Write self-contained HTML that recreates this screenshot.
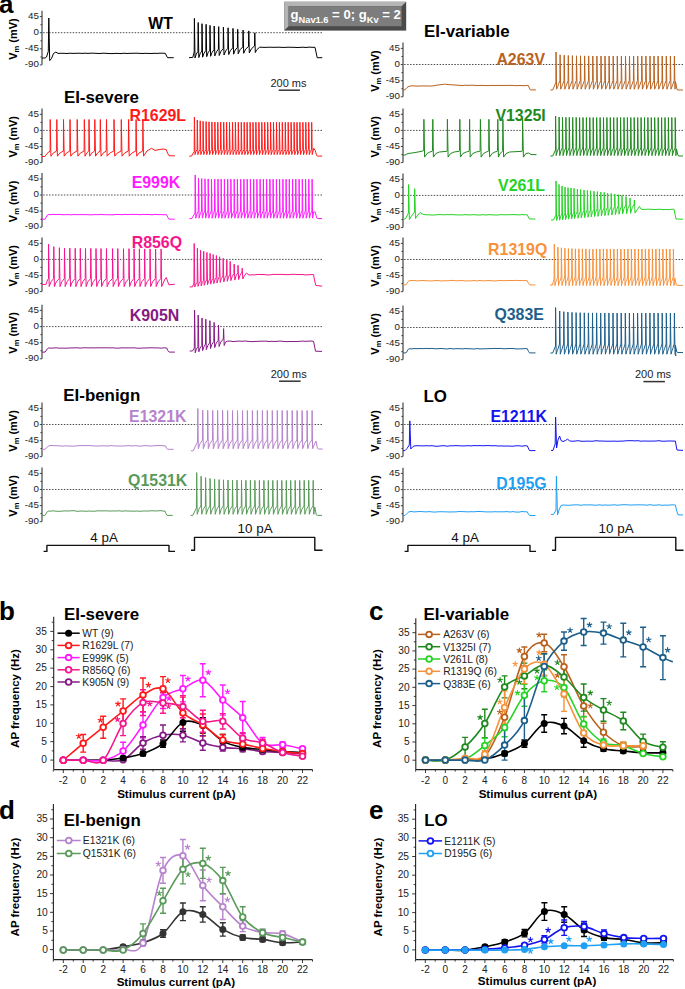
<!DOCTYPE html><html><head><meta charset="utf-8"><style>html,body{margin:0;padding:0;background:#fff;}svg{display:block;} text{font-family:"Liberation Sans", sans-serif;}</style></head><body><svg width="685" height="989" viewBox="0 0 685 989"><rect width="685" height="989" fill="#fff"/><line x1="42" y1="10.8" x2="42" y2="64.8" stroke="#333" stroke-width="1.1"/>
<line x1="39.8" y1="16.6" x2="42" y2="16.6" stroke="#333" stroke-width="0.9"/>
<line x1="40.4" y1="24.7" x2="42" y2="24.7" stroke="#333" stroke-width="0.9"/>
<line x1="39.8" y1="32.7" x2="42" y2="32.7" stroke="#333" stroke-width="0.9"/>
<line x1="40.4" y1="40.8" x2="42" y2="40.8" stroke="#333" stroke-width="0.9"/>
<line x1="39.8" y1="48.8" x2="42" y2="48.8" stroke="#333" stroke-width="0.9"/>
<line x1="40.4" y1="56.9" x2="42" y2="56.9" stroke="#333" stroke-width="0.9"/>
<line x1="39.8" y1="64.9" x2="42" y2="64.9" stroke="#333" stroke-width="0.9"/>
<text x="39" y="18.8" font-size="9.8" fill="#222" font-weight="normal" text-anchor="end">45</text>
<text x="39" y="34.9" font-size="9.8" fill="#222" font-weight="normal" text-anchor="end">0</text>
<text x="39" y="51" font-size="9.8" fill="#222" font-weight="normal" text-anchor="end">-45</text>
<text x="39" y="67.1" font-size="9.8" fill="#222" font-weight="normal" text-anchor="end">-90</text>
<text transform="translate(17.2,39.1) rotate(-90)" font-size="11" font-weight="bold" text-anchor="middle">V<tspan font-size="7.5" dy="2">m</tspan><tspan dy="-2"> (mV)</tspan></text>
<line x1="43.2" y1="32.7" x2="322.3" y2="32.7" stroke="#444" stroke-width="0.95" stroke-dasharray="1.5 1.45"/>
<path d="M42 58L45.1 58 46.5 57 48.3 51.4 48.8 18 49.7 60.6 51.5 58.5 53.5 53.5 55.8 52.1 58 53.4 61 53.3 64 53.3 67 53.5 70 53.2 73 53.4 76 53.3 79 53.2 82 53.4 85 53.2 88 53.4 91 53.2 94 53.2 97 53.4 100 53.5 103 53.2 106 53.3 109 53.5 112 53.6 115 53.4 118 53.4 121 53.6 124 53.2 127 53.5 130 53.3 133 53.3 136 53.2 139 53.3 142 53.5 145 53.3 148 53.4 151 53.5 154 53.3 157 53.4 160 53.2 163 53.2 165.4 53.4 166.6 56 167.6 57.7 173.7 57.7" fill="none" stroke="#000000" stroke-width="1.0" stroke-linejoin="round"/>
<path d="M189 57.7L192.8 57.4 194.2 52 194.4 18.4 195 58 196.3 54.1 197.9 51.5 198.2 22.5 198.8 57.6 200.1 53.7 201.8 51.1 202 23.7 202.6 57.2 204 53.2 205.8 50.6 206.1 24.3 206.7 56.7 208 52.8 209.8 50.2 210 25.4 210.6 56.3 212.1 52.3 214 49.7 214.2 26 214.8 55.9 216.4 51.9 218.4 49.2 218.7 26.6 219.2 55.5 220.9 51.4 223.2 48.8 223.4 27.2 224 55 225.6 51 227.8 48.3 228.1 27.8 228.7 54.6 230.4 50.6 232.8 47.8 233 28.4 233.6 54.2 235.2 50.1 237.4 47.4 237.7 29.3 238.2 53.8 240.1 49.7 242.8 46.9 243.1 30.1 243.7 53.3 245.6 49.2 248.5 46.5 248.8 30.9 249.3 52.9 251.4 48.8 254.5 46 254.8 32.8 255.3 52.5 256.5 50 259.5 47.3 261 47.2 264 47.4 267 47.3 270 47.2 273 47.3 276 47.3 279 47.2 282 47.4 285 47.4 288 47.2 291 47.3 294 47.3 297 47.5 300 47.4 303 47.2 306 47.5 309 47.1 312 47.3 315 47.3 316 52 317.2 57.7 322.3 57.7" fill="none" stroke="#000000" stroke-width="1.0" stroke-linejoin="round"/>
<text x="148.3" y="29.1" font-size="15.8" fill="#000" font-weight="bold" text-anchor="start">WT</text>
<text x="270.4" y="87" font-size="11" fill="#222" font-weight="normal" text-anchor="start">200 ms</text>
<line x1="278.7" y1="90.2" x2="299.9" y2="90.2" stroke="#333" stroke-width="1.5"/>
<text x="63.9" y="102.9" font-size="16.9" fill="#000" font-weight="bold" text-anchor="start">EI-severe</text>
<line x1="42" y1="108.5" x2="42" y2="162.5" stroke="#333" stroke-width="1.1"/>
<line x1="39.8" y1="114.3" x2="42" y2="114.3" stroke="#333" stroke-width="0.9"/>
<line x1="40.4" y1="122.4" x2="42" y2="122.4" stroke="#333" stroke-width="0.9"/>
<line x1="39.8" y1="130.4" x2="42" y2="130.4" stroke="#333" stroke-width="0.9"/>
<line x1="40.4" y1="138.5" x2="42" y2="138.5" stroke="#333" stroke-width="0.9"/>
<line x1="39.8" y1="146.5" x2="42" y2="146.5" stroke="#333" stroke-width="0.9"/>
<line x1="40.4" y1="154.6" x2="42" y2="154.6" stroke="#333" stroke-width="0.9"/>
<line x1="39.8" y1="162.6" x2="42" y2="162.6" stroke="#333" stroke-width="0.9"/>
<text x="39" y="116.5" font-size="9.8" fill="#222" font-weight="normal" text-anchor="end">45</text>
<text x="39" y="132.6" font-size="9.8" fill="#222" font-weight="normal" text-anchor="end">0</text>
<text x="39" y="148.7" font-size="9.8" fill="#222" font-weight="normal" text-anchor="end">-45</text>
<text x="39" y="164.8" font-size="9.8" fill="#222" font-weight="normal" text-anchor="end">-90</text>
<text transform="translate(17.2,136.8) rotate(-90)" font-size="11" font-weight="bold" text-anchor="middle">V<tspan font-size="7.5" dy="2">m</tspan><tspan dy="-2"> (mV)</tspan></text>
<line x1="43.2" y1="130.4" x2="322.3" y2="130.4" stroke="#444" stroke-width="0.95" stroke-dasharray="1.5 1.45"/>
<path d="M42 156.5L45 156.5 47 153.5 50.1 151 50.2 119.5 50.9 156.2 53.2 153.1 56.6 151 56.8 119.5 57.4 156.2 59.8 153.1 63.4 151 63.5 119.5 64.2 156.2 66.4 153.1 69.8 151 70 119.5 70.7 156.2 73.2 153.1 77 151 77.2 119.5 77.9 156.2 80.3 153.1 84.1 151 84.3 119.5 85 156.2 86.6 153.1 88.8 151 89 119.5 89.7 156.2 91.7 153.1 94.6 151 94.8 119.5 95.5 156.2 97.4 153.1 100.1 151 100.3 119.5 101 156.2 103.1 153.1 106.2 151 106.5 119.5 107.1 156.2 109.7 153.1 113.8 151 114 119.5 114.7 156.2 117.2 153.1 121.1 151 121.3 119.5 122 156.2 124.5 153.1 128.3 151 128.6 119.5 129.2 156.2 131.8 153.1 135.8 151 136.1 119.5 136.7 156.2 139 153.1 142.7 151 142.9 119.5 143.5 156.2 147 151 151.4 148.3 155 150.4 159 149.6 163 149 166.2 149.5 167.5 153 169 155.7 174.9 155.9" fill="none" stroke="#ff1a1a" stroke-width="1.0" stroke-linejoin="round"/>
<path d="M189.2 156.1L191.5 156.1 194.2 151.5 194.4 117 195 154.6 196 151.5 197.1 149.5 197.3 120 197.9 154.6 198.9 151.5 200 149.5 200.2 120.8 200.8 154.6 201.8 151.5 202.9 149.5 203.1 121.3 203.7 154.6 204.8 151.5 205.9 149.5 206.1 121.6 206.7 154.6 207.7 151.5 208.8 149.5 209 121.8 209.6 154.6 210.6 151.5 211.7 149.5 211.9 122 212.5 154.6 213.6 151.5 214.7 149.5 214.9 122.1 215.5 154.6 216.5 151.5 217.6 149.5 217.8 122.2 218.4 154.6 219.4 151.5 220.5 149.5 220.7 122.2 221.3 154.6 222.4 151.5 223.5 149.5 223.7 122.2 224.3 154.6 225.3 151.5 226.4 149.5 226.6 122.3 227.2 154.6 228.2 151.5 229.3 149.5 229.5 122.3 230.1 154.6 231.2 151.5 232.3 149.5 232.5 122.3 233.1 154.6 234.1 151.5 235.2 149.5 235.4 122.3 236 154.6 237 151.5 238.1 149.5 238.3 122.3 238.9 154.6 240 151.5 241.1 149.5 241.3 122.3 241.9 154.6 242.9 151.5 244 149.5 244.2 122.3 244.8 154.6 245.8 151.5 246.9 149.5 247.1 122.3 247.7 154.6 248.8 151.5 249.9 149.5 250.1 122.3 250.7 154.6 251.7 151.5 252.8 149.5 253 122.3 253.6 154.6 254.6 151.5 255.7 149.5 255.9 122.3 256.5 154.6 257.6 151.5 258.7 149.5 258.9 122.3 259.5 154.6 260.5 151.5 261.6 149.5 261.8 122.3 262.4 154.6 263.4 151.5 264.5 149.5 264.7 122.3 265.3 154.6 266.4 151.5 267.5 149.5 267.7 122.3 268.3 154.6 269.3 151.5 270.4 149.5 270.6 122.3 271.2 154.6 272.2 151.5 273.3 149.5 273.5 122.3 274.1 154.6 275.2 151.5 276.3 149.5 276.5 122.3 277.1 154.6 278.1 151.5 279.2 149.5 279.4 122.3 280 154.6 281 151.5 282.1 149.5 282.3 122.3 282.9 154.6 284 151.5 285.1 149.5 285.3 122.3 285.9 154.6 286.9 151.5 288 149.5 288.2 122.3 288.8 154.6 289.8 151.5 290.9 149.5 291.1 122.3 291.7 154.6 292.7 151.5 293.9 149.5 294.1 122.3 294.7 154.6 295.7 151.5 296.8 149.5 297 122.3 297.6 154.6 298.6 151.5 299.7 149.5 299.9 122.3 300.5 154.6 301.5 151.5 302.7 149.5 302.9 122.3 303.5 154.6 304.5 151.5 305.6 149.5 305.8 122.3 306.4 154.6 307.4 151.5 308.5 149.5 308.7 122.3 309.3 154.6 310.3 151.5 311.5 149.5 311.7 122.3 312.2 154.6 313.7 148.3 315.2 150.5 316.7 155.6 317.7 156.1 322.2 156.1" fill="none" stroke="#ff1a1a" stroke-width="1.0" stroke-linejoin="round"/>
<text x="129.5" y="121.2" font-size="15.9" fill="#ff1a1a" font-weight="bold" text-anchor="start">R1629L</text>
<line x1="42" y1="173.1" x2="42" y2="227.1" stroke="#333" stroke-width="1.1"/>
<line x1="39.8" y1="178.9" x2="42" y2="178.9" stroke="#333" stroke-width="0.9"/>
<line x1="40.4" y1="186.9" x2="42" y2="186.9" stroke="#333" stroke-width="0.9"/>
<line x1="39.8" y1="195" x2="42" y2="195" stroke="#333" stroke-width="0.9"/>
<line x1="40.4" y1="203.1" x2="42" y2="203.1" stroke="#333" stroke-width="0.9"/>
<line x1="39.8" y1="211.1" x2="42" y2="211.1" stroke="#333" stroke-width="0.9"/>
<line x1="40.4" y1="219.2" x2="42" y2="219.2" stroke="#333" stroke-width="0.9"/>
<line x1="39.8" y1="227.2" x2="42" y2="227.2" stroke="#333" stroke-width="0.9"/>
<text x="39" y="181.1" font-size="9.8" fill="#222" font-weight="normal" text-anchor="end">45</text>
<text x="39" y="197.2" font-size="9.8" fill="#222" font-weight="normal" text-anchor="end">0</text>
<text x="39" y="213.3" font-size="9.8" fill="#222" font-weight="normal" text-anchor="end">-45</text>
<text x="39" y="229.4" font-size="9.8" fill="#222" font-weight="normal" text-anchor="end">-90</text>
<text transform="translate(17.2,201.4) rotate(-90)" font-size="11" font-weight="bold" text-anchor="middle">V<tspan font-size="7.5" dy="2">m</tspan><tspan dy="-2"> (mV)</tspan></text>
<line x1="43.2" y1="195" x2="322.3" y2="195" stroke="#444" stroke-width="0.95" stroke-dasharray="1.5 1.45"/>
<path d="M42 219.2L45 219.2 47.4 215.1 48 214.6 50 214.7 53 214.4 56 214.6 59 214.4 62 214.7 65 214.7 68 214.6 71 214.8 74 214.5 77 214.7 80 214.6 83 214.6 86 214.6 89 214.8 92 214.8 95 214.6 98 214.7 101 214.4 104 214.7 107 214.7 110 214.8 113 214.8 116 214.5 119 214.5 122 214.7 125 214.4 128 214.6 131 214.4 134 214.4 137 214.4 140 214.7 143 214.4 146 214.5 149 214.5 152 214.8 155 214.4 158 214.6 161 214.6 164 214.8 166.5 214.6 167.8 217.4 169 219.2 174.7 219.2" fill="none" stroke="#ff1aff" stroke-width="1.0" stroke-linejoin="round"/>
<path d="M189.5 218.5L191.8 218.5 195 213 195.2 174.9 195.8 218.2 197 213.9 198.3 211 198.5 178.2 199.1 218.2 200.2 213.9 201.5 211 201.7 178.5 202.3 218.2 203.5 213.9 204.8 211 205 178.8 205.6 218.2 206.7 213.9 208 211 208.2 178.9 208.8 218.2 210 213.9 211.3 211 211.5 179 212.1 218.2 213.2 213.9 214.5 211 214.7 179.1 215.3 218.2 216.5 213.9 217.8 211 218 179.1 218.6 218.2 219.7 213.9 221 211 221.2 179.1 221.8 218.2 222.9 213.9 224.2 211 224.4 179.2 225 218.2 226.2 213.9 227.5 211 227.7 179.2 228.3 218.2 229.4 213.9 230.7 211 230.9 179.2 231.5 218.2 232.7 213.9 234 211 234.2 179.2 234.8 218.2 235.9 213.9 237.2 211 237.4 179.2 238 218.2 239.2 213.9 240.5 211 240.7 179.2 241.3 218.2 242.4 213.9 243.7 211 243.9 179.2 244.5 218.2 245.7 213.9 247 211 247.2 179.2 247.8 218.2 248.9 213.9 250.2 211 250.4 179.2 251 218.2 252.1 213.9 253.4 211 253.7 179.2 254.2 218.2 255.4 213.9 256.7 211 256.9 179.2 257.5 218.2 258.6 213.9 259.9 211 260.1 179.2 260.7 218.2 261.9 213.9 263.2 211 263.4 179.2 264 218.2 265.1 213.9 266.4 211 266.6 179.2 267.2 218.2 268.4 213.9 269.7 211 269.9 179.2 270.5 218.2 271.6 213.9 272.9 211 273.1 179.2 273.7 218.2 274.9 213.9 276.2 211 276.4 179.2 277 218.2 278.1 213.9 279.4 211 279.6 179.2 280.2 218.2 281.3 213.9 282.7 211 282.9 179.2 283.4 218.2 284.6 213.9 285.9 211 286.1 179.2 286.7 218.2 287.8 213.9 289.1 211 289.3 179.2 289.9 218.2 291.1 213.9 292.4 211 292.6 179.2 293.2 218.2 294.3 213.9 295.6 211 295.8 179.2 296.4 218.2 297.6 213.9 298.9 211 299.1 179.2 299.7 218.2 300.8 213.9 302.1 211 302.3 179.2 302.9 218.2 304.1 213.9 305.4 211 305.6 179.2 306.2 218.2 307.3 213.9 308.6 211 308.8 179.2 309.4 218.2 310.5 213.9 311.9 211 312.1 179.2 312.6 218.2 313.6 212 315.2 212 316.7 218 317.7 218.5 322 218.5" fill="none" stroke="#ff1aff" stroke-width="1.0" stroke-linejoin="round"/>
<text x="131.7" y="187.9" font-size="15.9" fill="#ff1aff" font-weight="bold" text-anchor="start">E999K</text>
<line x1="42" y1="237.5" x2="42" y2="291.5" stroke="#333" stroke-width="1.1"/>
<line x1="39.8" y1="243.3" x2="42" y2="243.3" stroke="#333" stroke-width="0.9"/>
<line x1="40.4" y1="251.3" x2="42" y2="251.3" stroke="#333" stroke-width="0.9"/>
<line x1="39.8" y1="259.4" x2="42" y2="259.4" stroke="#333" stroke-width="0.9"/>
<line x1="40.4" y1="267.4" x2="42" y2="267.4" stroke="#333" stroke-width="0.9"/>
<line x1="39.8" y1="275.5" x2="42" y2="275.5" stroke="#333" stroke-width="0.9"/>
<line x1="40.4" y1="283.5" x2="42" y2="283.5" stroke="#333" stroke-width="0.9"/>
<line x1="39.8" y1="291.6" x2="42" y2="291.6" stroke="#333" stroke-width="0.9"/>
<text x="39" y="245.5" font-size="9.8" fill="#222" font-weight="normal" text-anchor="end">45</text>
<text x="39" y="261.6" font-size="9.8" fill="#222" font-weight="normal" text-anchor="end">0</text>
<text x="39" y="277.7" font-size="9.8" fill="#222" font-weight="normal" text-anchor="end">-45</text>
<text x="39" y="293.8" font-size="9.8" fill="#222" font-weight="normal" text-anchor="end">-90</text>
<text transform="translate(17.2,265.8) rotate(-90)" font-size="11" font-weight="bold" text-anchor="middle">V<tspan font-size="7.5" dy="2">m</tspan><tspan dy="-2"> (mV)</tspan></text>
<line x1="43.2" y1="259.4" x2="322.3" y2="259.4" stroke="#444" stroke-width="0.95" stroke-dasharray="1.5 1.45"/>
<path d="M42 284.4L46 284.4 47.5 280 48.5 278.6 48.6 244.2 49.2 286.6 51 281.8 53.6 278.6 53.8 246.6 54.4 286.6 56.3 281.8 59.2 278.6 59.4 247.7 60 286.6 61.8 281.8 64.3 278.6 64.5 248.2 65.2 286.6 67 281.8 69.6 278.6 69.8 248.2 70.5 286.6 72.3 281.8 75 278.6 75.2 248.3 75.9 286.6 77.6 281.8 80.1 278.6 80.3 248.3 81 286.6 82.7 281.8 85.2 278.6 85.5 248.4 86.1 286.6 87.9 281.8 90.5 278.6 90.8 248.4 91.4 286.6 93.2 281.8 95.8 278.6 96 248.5 96.7 286.6 98.4 281.8 100.8 278.6 101 248.5 101.6 286.6 103.5 281.8 106.2 278.6 106.5 248.6 107.1 286.6 109.2 281.8 112.4 278.6 112.6 248.6 113.2 286.6 115 281.8 117.5 278.6 117.8 248.6 118.4 286.6 120.3 281.8 123.2 278.6 123.5 248.7 124.1 286.6 126 281.8 128.8 278.6 129 248.7 129.6 286.6 131.3 281.8 133.8 278.6 134.1 248.8 134.7 286.6 136.5 281.8 139.2 278.6 139.4 248.8 140 286.6 141.8 281.8 144.4 278.6 144.7 248.9 145.2 286.6 147.1 281.8 149.8 278.6 150.1 248.9 150.7 286.6 152.6 281.8 155.3 278.6 155.6 249 156.2 286.6 158.1 281.8 160.8 278.6 161.1 249 161.7 286.6 164.5 280 166.3 277.5 167.5 281 168.8 284.8 174.9 284.2" fill="none" stroke="#f5168c" stroke-width="1.0" stroke-linejoin="round"/>
<path d="M189.7 286.9L192.5 286.9 193.9 283 194.2 243.5 194.8 287 195.9 284.1 197.2 282.2 197.4 248.3 198 286.4 199.1 283.4 200.3 281.4 200.6 250.2 201.2 285.9 202.2 282.7 203.4 280.6 203.7 251.3 204.2 285.3 205.4 282 206.7 279.9 206.9 252.4 207.5 284.7 208.6 281.3 209.8 279.1 210.1 253.4 210.7 284.1 211.8 280.6 213 278.3 213.2 254.5 213.8 283.6 214.9 279.9 216.2 277.5 216.4 255.5 217 283 218.1 279.2 219.3 276.7 219.6 256.8 220.2 282.4 221.4 278.5 222.9 275.9 223.2 258.3 223.8 281.9 225 277.8 226.5 275.1 226.8 260 227.3 281.3 228.5 277.1 229.9 274.4 230.2 261.5 230.8 280.7 232.2 276.4 233.9 273.6 234.2 264 234.8 280.1 236.1 275.7 237.8 272.8 238 265.3 238.6 279.6 240.1 275 242 272 242.2 268.2 242.8 279 244.5 275.5 246.4 273.1 249 275 252 274.8 255 274.9 258 274.4 261 274.5 264 274.5 267 274.9 270 274.9 273 274.4 276 274.4 279 274.4 282 274.4 285 274.6 288 274.7 291 274.4 294 274.3 297 274.5 300 274.5 303 274.6 306 274.9 309 274.7 312 274.6 313.5 274.6 314.5 280 315.8 285.4 322.2 286.2" fill="none" stroke="#f5168c" stroke-width="1.0" stroke-linejoin="round"/>
<text x="131.7" y="248.3" font-size="15.9" fill="#f5168c" font-weight="bold" text-anchor="start">R856Q</text>
<line x1="42" y1="304.7" x2="42" y2="358.7" stroke="#333" stroke-width="1.1"/>
<line x1="39.8" y1="310.4" x2="42" y2="310.4" stroke="#333" stroke-width="0.9"/>
<line x1="40.4" y1="318.5" x2="42" y2="318.5" stroke="#333" stroke-width="0.9"/>
<line x1="39.8" y1="326.6" x2="42" y2="326.6" stroke="#333" stroke-width="0.9"/>
<line x1="40.4" y1="334.6" x2="42" y2="334.6" stroke="#333" stroke-width="0.9"/>
<line x1="39.8" y1="342.7" x2="42" y2="342.7" stroke="#333" stroke-width="0.9"/>
<line x1="40.4" y1="350.7" x2="42" y2="350.7" stroke="#333" stroke-width="0.9"/>
<line x1="39.8" y1="358.8" x2="42" y2="358.8" stroke="#333" stroke-width="0.9"/>
<text x="39" y="312.6" font-size="9.8" fill="#222" font-weight="normal" text-anchor="end">45</text>
<text x="39" y="328.8" font-size="9.8" fill="#222" font-weight="normal" text-anchor="end">0</text>
<text x="39" y="344.9" font-size="9.8" fill="#222" font-weight="normal" text-anchor="end">-45</text>
<text x="39" y="360.9" font-size="9.8" fill="#222" font-weight="normal" text-anchor="end">-90</text>
<text transform="translate(17.2,332.9) rotate(-90)" font-size="11" font-weight="bold" text-anchor="middle">V<tspan font-size="7.5" dy="2">m</tspan><tspan dy="-2"> (mV)</tspan></text>
<line x1="43.2" y1="326.6" x2="322.3" y2="326.6" stroke="#444" stroke-width="0.95" stroke-dasharray="1.5 1.45"/>
<path d="M42 352.1L45.1 352.1 47.6 348.5 48.2 348 50.2 348.1 53.2 348.1 56.2 347.8 59.2 348.2 62.2 348.1 65.2 348.2 68.2 348.1 71.2 347.9 74.2 347.9 77.2 347.8 80.2 348.1 83.2 347.8 86.2 347.8 89.2 347.9 92.2 347.8 95.2 347.9 98.2 347.8 101.2 347.8 104.2 347.8 107.2 347.8 110.2 347.9 113.2 347.8 116.2 348.2 119.2 348.1 122.2 347.8 125.2 347.9 128.2 347.9 131.2 347.9 134.2 347.8 137.2 348.2 140.2 348.2 143.2 348 146.2 348 149.2 347.8 152.2 347.8 155.2 347.9 158.2 347.9 161.2 348.2 164.2 347.8 166.7 348 167.9 350.6 169.2 352.1 174.9 352.1" fill="none" stroke="#851a85" stroke-width="1.0" stroke-linejoin="round"/>
<path d="M189.7 351L192.5 351 194.3 348 194.6 310.1 195.2 352.8 196.4 349.1 197.9 346.7 198.2 315 198.8 351.8 200.1 348 201.8 345.4 202 318 202.6 350.7 203.9 346.8 205.5 344.1 205.8 319.2 206.3 349.7 207.8 345.6 209.7 342.9 209.9 320.7 210.5 348.6 211.9 344.4 213.8 341.6 214.1 322.4 214.7 347.6 216.2 343.2 218.2 340.3 218.5 325 219.1 346.5 220.8 342 223.3 339 223.6 328.6 224.2 345.5 225.5 342 227.3 341.3 230 341 233 341.6 236 341.3 239 341.1 242 341.3 245 341 248 341.3 251 341.6 254 341.5 257 341.4 260 341.2 263 341.2 266 341.1 269 341.5 272 341.3 275 341.5 278 341.2 281 341.1 284 341.5 287 341.6 290 341.5 293 341.5 296 341.5 299 341.4 302 341.1 305 341.3 308 341.2 311 341 313.5 341.3 314.5 346 315.5 351.2 322 351.4" fill="none" stroke="#851a85" stroke-width="1.0" stroke-linejoin="round"/>
<text x="129.8" y="320.9" font-size="15.9" fill="#851a85" font-weight="bold" text-anchor="start">K905N</text>
<text x="270.7" y="378" font-size="11" fill="#222" font-weight="normal" text-anchor="start">200 ms</text>
<line x1="279.1" y1="381.2" x2="300.6" y2="381.2" stroke="#333" stroke-width="1.5"/>
<text x="63.3" y="401.3" font-size="16.9" fill="#000" font-weight="bold" text-anchor="start">EI-benign</text>
<line x1="42" y1="402.6" x2="42" y2="456.6" stroke="#333" stroke-width="1.1"/>
<line x1="39.8" y1="408.4" x2="42" y2="408.4" stroke="#333" stroke-width="0.9"/>
<line x1="40.4" y1="416.4" x2="42" y2="416.4" stroke="#333" stroke-width="0.9"/>
<line x1="39.8" y1="424.5" x2="42" y2="424.5" stroke="#333" stroke-width="0.9"/>
<line x1="40.4" y1="432.6" x2="42" y2="432.6" stroke="#333" stroke-width="0.9"/>
<line x1="39.8" y1="440.6" x2="42" y2="440.6" stroke="#333" stroke-width="0.9"/>
<line x1="40.4" y1="448.6" x2="42" y2="448.6" stroke="#333" stroke-width="0.9"/>
<line x1="39.8" y1="456.7" x2="42" y2="456.7" stroke="#333" stroke-width="0.9"/>
<text x="39" y="410.6" font-size="9.8" fill="#222" font-weight="normal" text-anchor="end">45</text>
<text x="39" y="426.7" font-size="9.8" fill="#222" font-weight="normal" text-anchor="end">0</text>
<text x="39" y="442.8" font-size="9.8" fill="#222" font-weight="normal" text-anchor="end">-45</text>
<text x="39" y="458.9" font-size="9.8" fill="#222" font-weight="normal" text-anchor="end">-90</text>
<text transform="translate(17.2,430.9) rotate(-90)" font-size="11" font-weight="bold" text-anchor="middle">V<tspan font-size="7.5" dy="2">m</tspan><tspan dy="-2"> (mV)</tspan></text>
<line x1="43.2" y1="424.5" x2="322.3" y2="424.5" stroke="#444" stroke-width="0.95" stroke-dasharray="1.5 1.45"/>
<path d="M42 449.3L45 449.3 48.2 446.3 49 445.8 51 445.5 54 445.7 57 445.7 60 445.9 63 446.1 66 445.8 69 446.1 72 446.1 75 446.1 78 445.7 81 445.6 84 445.6 87 445.6 90 445.6 93 445.9 96 446 99 446 102 445.8 105 445.9 108 446 111 445.6 114 445.9 117 446 120 446 123 446 126 445.8 129 445.6 132 446 135 445.7 138 446 141 446.1 144 445.7 147 445.7 150 446.1 153 445.9 156 445.6 159 445.6 162 445.6 165 446 165.5 445.8 166.5 448.1 167.5 449.3 173.6 449.3" fill="none" stroke="#b683cc" stroke-width="1.0" stroke-linejoin="round"/>
<path d="M190.9 450.8L193.2 450.8 197.5 442 197.8 408.5 198.3 448.7 200.1 443.5 202.5 440 202.7 410.2 203.3 448.7 205.1 443.5 207.5 440 207.7 410.3 208.3 448.7 210 443.5 212.5 440 212.7 410.4 213.3 448.7 215 443.5 217.4 440 217.6 410.4 218.2 448.7 220 443.5 222.4 440 222.6 410.4 223.2 448.7 224.9 443.5 227.4 440 227.6 410.5 228.2 448.7 229.9 443.5 232.3 440 232.5 410.5 233.1 448.7 234.9 443.5 237.3 440 237.5 410.5 238.1 448.7 239.8 443.5 242.3 440 242.5 410.5 243.1 448.7 244.8 443.5 247.2 440 247.4 410.5 248 448.7 249.8 443.5 252.2 440 252.4 410.5 253 448.7 254.8 443.5 257.2 440 257.4 410.5 258 448.7 259.7 443.5 262.2 440 262.4 410.5 263 448.7 264.7 443.5 267.1 440 267.3 410.5 267.9 448.7 269.7 443.5 272.1 440 272.3 410.5 272.9 448.7 274.6 443.5 277.1 440 277.3 410.5 277.9 448.7 279.6 443.5 282 440 282.2 410.5 282.8 448.7 284.6 443.5 287 440 287.2 410.5 287.8 448.7 289.5 443.5 292 440 292.2 410.5 292.8 448.7 294.5 443.5 296.9 440 297.1 410.5 297.7 448.7 299.5 443.5 301.9 440 302.1 410.5 302.7 448.7 304.5 443.5 306.9 440 307.1 410.5 307.7 448.7 309.4 443.5 311.9 440 312.1 410.5 312.6 448.7 314.8 443.4 316 441 317.5 448.5 318.5 449 322.6 449" fill="none" stroke="#b683cc" stroke-width="1.0" stroke-linejoin="round"/>
<text x="129.1" y="422.2" font-size="15.9" fill="#b683cc" font-weight="bold" text-anchor="start">E1321K</text>
<line x1="42" y1="467.6" x2="42" y2="521.6" stroke="#333" stroke-width="1.1"/>
<line x1="39.8" y1="473.4" x2="42" y2="473.4" stroke="#333" stroke-width="0.9"/>
<line x1="40.4" y1="481.4" x2="42" y2="481.4" stroke="#333" stroke-width="0.9"/>
<line x1="39.8" y1="489.5" x2="42" y2="489.5" stroke="#333" stroke-width="0.9"/>
<line x1="40.4" y1="497.6" x2="42" y2="497.6" stroke="#333" stroke-width="0.9"/>
<line x1="39.8" y1="505.6" x2="42" y2="505.6" stroke="#333" stroke-width="0.9"/>
<line x1="40.4" y1="513.6" x2="42" y2="513.6" stroke="#333" stroke-width="0.9"/>
<line x1="39.8" y1="521.7" x2="42" y2="521.7" stroke="#333" stroke-width="0.9"/>
<text x="39" y="475.6" font-size="9.8" fill="#222" font-weight="normal" text-anchor="end">45</text>
<text x="39" y="491.7" font-size="9.8" fill="#222" font-weight="normal" text-anchor="end">0</text>
<text x="39" y="507.8" font-size="9.8" fill="#222" font-weight="normal" text-anchor="end">-45</text>
<text x="39" y="523.9" font-size="9.8" fill="#222" font-weight="normal" text-anchor="end">-90</text>
<text transform="translate(17.2,495.9) rotate(-90)" font-size="11" font-weight="bold" text-anchor="middle">V<tspan font-size="7.5" dy="2">m</tspan><tspan dy="-2"> (mV)</tspan></text>
<line x1="43.2" y1="489.5" x2="322.3" y2="489.5" stroke="#444" stroke-width="0.95" stroke-dasharray="1.5 1.45"/>
<path d="M42 515.4L45 515.4 47.4 511.5 48 511 50 511.2 53 510.8 56 511.2 59 511.3 62 511.1 65 510.9 68 511 71 510.8 74 510.7 77 511.3 80 511.1 83 511 86 511.3 89 511 92 511.2 95 511.2 98 510.8 101 510.9 104 510.9 107 510.8 110 511.1 113 510.9 116 511 119 510.8 122 511.2 125 510.9 128 511 131 511.1 134 511.2 137 511 140 511.3 143 511 146 511 149 511 152 510.7 155 511 158 510.8 161 510.7 164 511.2 165 511 166 513.7 167 515.4 172.7 515.4" fill="none" stroke="#5a9a5a" stroke-width="1.0" stroke-linejoin="round"/>
<path d="M190.5 515.4L192.8 515.4 196.4 508 196.7 472.6 197.2 514.3 198.8 509.3 200.9 506 201.1 476.2 201.7 514.3 203.3 509.3 205.4 506 205.6 477.6 206.2 514.3 207.8 509.3 209.9 506 210.1 478.5 210.7 514.3 212.3 509.3 214.4 506 214.6 479.1 215.2 514.3 216.7 509.3 218.9 506 219.1 479.6 219.7 514.3 221.2 509.3 223.3 506 223.5 479.8 224.1 514.3 225.7 509.3 227.8 506 228 480 228.6 514.3 230.2 509.3 232.3 506 232.5 480.1 233.1 514.3 234.7 509.3 236.8 506 237 480.2 237.6 514.3 239.1 509.3 241.3 506 241.5 480.3 242.1 514.3 243.6 509.3 245.7 506 245.9 480.3 246.5 514.3 248.1 509.3 250.2 506 250.4 480.3 251 514.3 252.6 509.3 254.7 506 254.9 480.4 255.5 514.3 257.1 509.3 259.2 506 259.4 480.4 260 514.3 261.5 509.3 263.7 506 263.9 480.4 264.5 514.3 266 509.3 268.1 506 268.3 480.4 268.9 514.3 270.5 509.3 272.6 506 272.8 480.4 273.4 514.3 275 509.3 277.1 506 277.3 480.4 277.9 514.3 279.5 509.3 281.6 506 281.8 480.4 282.4 514.3 284 509.3 286.1 506 286.3 480.4 286.9 514.3 288.4 509.3 290.5 506 290.7 480.4 291.3 514.3 292.9 509.3 295 506 295.2 480.4 295.8 514.3 297.4 509.3 299.5 506 299.7 480.4 300.3 514.3 301.9 509.3 304 506 304.2 480.4 304.8 514.3 306.4 509.3 308.5 506 308.7 480.4 309.3 514.3 310.8 509.3 313 506 313.2 480.4 313.8 514.3 314.8 507 316.3 514.9 317.3 515.4 322 515.4" fill="none" stroke="#5a9a5a" stroke-width="1.0" stroke-linejoin="round"/>
<text x="128.1" y="486.2" font-size="15.9" fill="#5a9a5a" font-weight="bold" text-anchor="start">Q1531K</text>
<path d="M43.6 551.4L46.9 551.4 46.9 545.4 169 545.4 169 551.4 175 551.4" fill="none" stroke="#111" stroke-width="1.4" stroke-linejoin="round" stroke-linejoin="miter"/>
<text x="90.3" y="541.5" font-size="13.4" fill="#111" font-weight="normal" text-anchor="start">4 pA</text>
<path d="M191 550.2L194.5 550.2 194.5 537.4 314.8 537.4 314.8 550.2 322.5 550.2" fill="none" stroke="#111" stroke-width="1.4" stroke-linejoin="round" stroke-linejoin="miter"/>
<text x="237.6" y="533.3" font-size="13.4" fill="#111" font-weight="normal" text-anchor="start">10 pA</text>
<g><rect x="284.2" y="1.8" width="122" height="28.8" fill="#4a4a4a"/><polygon points="284.2,1.8 406.2,1.8 401.6,6.2 288.6,6.2 288.6,26.2 284.2,30.6" fill="#b4b4b4"/><rect x="288.6" y="6.2" width="113" height="20" fill="#7d7d7d"/></g>
<text x="290.5" y="19.3" font-size="13.1" font-weight="bold" fill="#fff">g<tspan font-size="9.3" dy="3.8">Nav1.6</tspan><tspan dy="-3.8"> = 0; g</tspan><tspan font-size="9.3" dy="3.8">Kv</tspan><tspan dy="-3.8"> = 2</tspan></text>
<text x="424.1" y="37.1" font-size="16.9" fill="#000" font-weight="bold" text-anchor="start">EI-variable</text>
<line x1="403" y1="42.6" x2="403" y2="96.7" stroke="#333" stroke-width="1.1"/>
<line x1="400.8" y1="48.4" x2="403" y2="48.4" stroke="#333" stroke-width="0.9"/>
<line x1="401.4" y1="56.5" x2="403" y2="56.5" stroke="#333" stroke-width="0.9"/>
<line x1="400.8" y1="64.5" x2="403" y2="64.5" stroke="#333" stroke-width="0.9"/>
<line x1="401.4" y1="72.6" x2="403" y2="72.6" stroke="#333" stroke-width="0.9"/>
<line x1="400.8" y1="80.7" x2="403" y2="80.7" stroke="#333" stroke-width="0.9"/>
<line x1="401.4" y1="88.7" x2="403" y2="88.7" stroke="#333" stroke-width="0.9"/>
<line x1="400.8" y1="96.8" x2="403" y2="96.8" stroke="#333" stroke-width="0.9"/>
<text x="400" y="50.6" font-size="9.8" fill="#222" font-weight="normal" text-anchor="end">45</text>
<text x="400" y="66.8" font-size="9.8" fill="#222" font-weight="normal" text-anchor="end">0</text>
<text x="400" y="82.9" font-size="9.8" fill="#222" font-weight="normal" text-anchor="end">-45</text>
<text x="400" y="99" font-size="9.8" fill="#222" font-weight="normal" text-anchor="end">-90</text>
<text transform="translate(378.6,71) rotate(-90)" font-size="11" font-weight="bold" text-anchor="middle">V<tspan font-size="7.5" dy="2">m</tspan><tspan dy="-2"> (mV)</tspan></text>
<line x1="404.2" y1="64.5" x2="683" y2="64.5" stroke="#444" stroke-width="0.95" stroke-dasharray="1.5 1.45"/>
<path d="M403 89.9L405 89.9 407 87.5 409 86.3 412 85.8 415 86 418 86.1 421 86 424 85.9 427 86 430 86 432 86 438 85 444.5 84.2 451 84.8 458 85.2 462 85.6 465 85.2 468 85.4 471 85.2 474 85.3 477 85.6 480 85.4 483 85.4 486 85.6 489 85.6 492 85.4 495 85.5 498 85.4 501 85.4 504 85.5 507 85.4 510 85.4 513 85.4 516 85.7 519 85.5 522 85.6 525 85.7 528 85.3 528.3 85.4 529.3 88 530.5 89.9 535.9 89.9" fill="none" stroke="#b9621e" stroke-width="1.0" stroke-linejoin="round"/>
<path d="M550.4 90L552.7 90 555.9 82.5 556 52 556.6 89.2 557.7 86.6 558.5 84.4 559.9 80.5 560.1 54.8 560.7 89.2 561.8 86.6 562.6 84.4 564 80.5 564.2 55.2 564.8 89.2 565.8 86.6 566.7 84.4 568.1 80.5 568.3 55.5 568.9 89.2 569.9 86.6 570.7 84.4 572.2 80.5 572.4 55.6 573 89.2 574 86.6 574.8 84.4 576.3 80.5 576.5 55.8 577.1 89.2 578.1 86.6 578.9 84.4 580.3 80.5 580.5 55.8 581.1 89.2 582.2 86.6 583 84.4 584.4 80.5 584.6 55.9 585.2 89.2 586.2 86.6 587.1 84.4 588.5 80.5 588.7 55.9 589.3 89.2 590.3 86.6 591.1 84.4 592.6 80.5 592.8 56 593.4 89.2 594.4 86.6 595.2 84.4 596.7 80.5 596.9 56 597.5 89.2 598.5 86.6 599.3 84.4 600.8 80.5 601 56 601.6 89.2 602.6 86.6 603.4 84.4 604.8 80.5 605 56 605.6 89.2 606.7 86.6 607.5 84.4 608.9 80.5 609.1 56 609.7 89.2 610.7 86.6 611.6 84.4 613 80.5 613.2 56 613.8 89.2 614.8 86.6 615.6 84.4 617.1 80.5 617.3 56 617.9 89.2 618.9 86.6 619.7 84.4 621.2 80.5 621.4 56 622 89.2 623 86.6 623.8 84.4 625.3 80.5 625.5 56 626.1 89.2 627.1 86.6 627.9 84.4 629.3 80.5 629.5 56 630.1 89.2 631.2 86.6 632 84.4 633.4 80.5 633.6 56 634.2 89.2 635.2 86.6 636.1 84.4 637.5 80.5 637.7 56 638.3 89.2 639.3 86.6 640.1 84.4 641.6 80.5 641.8 56 642.4 89.2 643.4 86.6 644.2 84.4 645.7 80.5 645.9 56 646.5 89.2 647.5 86.6 648.3 84.4 649.8 80.5 650 56 650.6 89.2 651.6 86.6 652.4 84.4 653.8 80.5 654 56 654.6 89.2 655.7 86.6 656.5 84.4 657.9 80.5 658.1 56 658.7 89.2 659.7 86.6 660.6 84.4 662 80.5 662.2 56 662.8 89.2 663.8 86.6 664.6 84.4 666.1 80.5 666.3 56 666.9 89.2 667.9 86.6 668.7 84.4 670.2 80.5 670.4 56 671 89.2 672 86.6 672.8 84.4 674.2 80.5 674.4 56 675 89.2 675.5 81.5 677 89.5 678 90 683 90" fill="none" stroke="#b9621e" stroke-width="1.0" stroke-linejoin="round"/>
<text x="496.4" y="64.8" font-size="15.9" fill="#b9621e" font-weight="bold" text-anchor="start">A263V</text>
<line x1="403" y1="108.5" x2="403" y2="162.5" stroke="#333" stroke-width="1.1"/>
<line x1="400.8" y1="114.3" x2="403" y2="114.3" stroke="#333" stroke-width="0.9"/>
<line x1="401.4" y1="122.4" x2="403" y2="122.4" stroke="#333" stroke-width="0.9"/>
<line x1="400.8" y1="130.4" x2="403" y2="130.4" stroke="#333" stroke-width="0.9"/>
<line x1="401.4" y1="138.5" x2="403" y2="138.5" stroke="#333" stroke-width="0.9"/>
<line x1="400.8" y1="146.5" x2="403" y2="146.5" stroke="#333" stroke-width="0.9"/>
<line x1="401.4" y1="154.6" x2="403" y2="154.6" stroke="#333" stroke-width="0.9"/>
<line x1="400.8" y1="162.6" x2="403" y2="162.6" stroke="#333" stroke-width="0.9"/>
<text x="400" y="116.5" font-size="9.8" fill="#222" font-weight="normal" text-anchor="end">45</text>
<text x="400" y="132.6" font-size="9.8" fill="#222" font-weight="normal" text-anchor="end">0</text>
<text x="400" y="148.7" font-size="9.8" fill="#222" font-weight="normal" text-anchor="end">-45</text>
<text x="400" y="164.8" font-size="9.8" fill="#222" font-weight="normal" text-anchor="end">-90</text>
<text transform="translate(378.6,136.8) rotate(-90)" font-size="11" font-weight="bold" text-anchor="middle">V<tspan font-size="7.5" dy="2">m</tspan><tspan dy="-2"> (mV)</tspan></text>
<line x1="404.2" y1="130.4" x2="683" y2="130.4" stroke="#444" stroke-width="0.95" stroke-dasharray="1.5 1.45"/>
<path d="M403 155.1L405 155.1 408 153.5 412 153 418 152 422 151.2 423.7 150.5 423.9 119.3 424.6 157.1 427.1 153.5 429.9 152 432.2 151.3 432.5 150.5 432.8 119.3 433.4 157.1 435.9 153.5 439.4 152 446.9 151.3 447.2 150.5 447.4 119.3 448.1 157.1 450.6 153.5 454.1 152 459.2 151.3 459.5 150.5 459.8 119.3 460.4 157.1 462.9 153.5 466.3 152 469 151.3 469.3 150.5 469.6 119.3 470.2 157.1 472.8 153.5 476.2 152 479.8 151.3 480.1 150.5 480.4 119.3 481.1 157.1 483.6 153.5 486.2 152 488.4 151.3 488.7 150.5 488.9 119.3 489.6 157.1 492.1 153.5 494.9 152 497.2 151.3 497.5 150.5 497.8 119.3 498.4 157.1 500 153.5 502.4 151.5 502.6 150.5 502.9 119.3 503.6 157.1 506.1 153.5 509.6 152 522.1 151.3 522.4 150.5 522.6 119.3 523.4 157.1 525.9 153.5 528.6 153 531 154.5 536.5 154.7" fill="none" stroke="#1e8a1e" stroke-width="1.0" stroke-linejoin="round"/>
<path d="M550.4 156L552.7 156 555.5 150 555.6 116 556.2 155.6 557.4 151 558.9 148 559.1 117 559.7 155.6 560.9 151 562.3 148 562.5 117.2 563.1 155.6 564.3 151 565.7 148 565.9 117.3 566.5 155.6 567.7 151 569.1 148 569.3 117.3 569.9 155.6 571.1 151 572.5 148 572.7 117.4 573.3 155.6 574.5 151 576 148 576.2 117.4 576.8 155.6 577.9 151 579.4 148 579.6 117.5 580.2 155.6 581.4 151 582.8 148 583 117.5 583.6 155.6 584.8 151 586.2 148 586.4 117.5 587 155.6 588.2 151 589.6 148 589.8 117.5 590.4 155.6 591.6 151 593 148 593.2 117.5 593.8 155.6 595 151 596.5 148 596.7 117.5 597.3 155.6 598.5 151 599.9 148 600.1 117.5 600.7 155.6 601.9 151 603.3 148 603.5 117.5 604.1 155.6 605.3 151 606.7 148 606.9 117.5 607.5 155.6 608.7 151 610.1 148 610.3 117.5 610.9 155.6 612.1 151 613.5 148 613.7 117.5 614.3 155.6 615.5 151 617 148 617.2 117.5 617.8 155.6 619 151 620.4 148 620.6 117.5 621.2 155.6 622.4 151 623.8 148 624 117.5 624.6 155.6 625.8 151 627.2 148 627.4 117.5 628 155.6 629.2 151 630.6 148 630.8 117.5 631.4 155.6 632.6 151 634 148 634.2 117.5 634.8 155.6 636 151 637.5 148 637.7 117.5 638.3 155.6 639.5 151 640.9 148 641.1 117.5 641.7 155.6 642.9 151 644.3 148 644.5 117.5 645.1 155.6 646.3 151 647.7 148 647.9 117.5 648.5 155.6 649.7 151 651.1 148 651.3 117.5 651.9 155.6 653.1 151 654.5 148 654.7 117.5 655.3 155.6 656.5 151 658 148 658.2 117.5 658.8 155.6 660 151 661.4 148 661.6 117.5 662.2 155.6 663.4 151 664.8 148 665 117.5 665.6 155.6 666.8 151 668.2 148 668.4 117.5 669 155.6 670.2 151 671.6 148 671.8 117.5 672.4 155.6 673.6 151 675.1 148 675.2 117.5 675.9 155.6 676.5 149 678 155.5 679 156 683 156" fill="none" stroke="#1e8a1e" stroke-width="1.0" stroke-linejoin="round"/>
<text x="495.4" y="121" font-size="15.9" fill="#1e8a1e" font-weight="bold" text-anchor="start">V1325I</text>
<line x1="403" y1="173.5" x2="403" y2="227.5" stroke="#333" stroke-width="1.1"/>
<line x1="400.8" y1="179.3" x2="403" y2="179.3" stroke="#333" stroke-width="0.9"/>
<line x1="401.4" y1="187.3" x2="403" y2="187.3" stroke="#333" stroke-width="0.9"/>
<line x1="400.8" y1="195.4" x2="403" y2="195.4" stroke="#333" stroke-width="0.9"/>
<line x1="401.4" y1="203.5" x2="403" y2="203.5" stroke="#333" stroke-width="0.9"/>
<line x1="400.8" y1="211.5" x2="403" y2="211.5" stroke="#333" stroke-width="0.9"/>
<line x1="401.4" y1="219.6" x2="403" y2="219.6" stroke="#333" stroke-width="0.9"/>
<line x1="400.8" y1="227.6" x2="403" y2="227.6" stroke="#333" stroke-width="0.9"/>
<text x="400" y="181.5" font-size="9.8" fill="#222" font-weight="normal" text-anchor="end">45</text>
<text x="400" y="197.6" font-size="9.8" fill="#222" font-weight="normal" text-anchor="end">0</text>
<text x="400" y="213.7" font-size="9.8" fill="#222" font-weight="normal" text-anchor="end">-45</text>
<text x="400" y="229.8" font-size="9.8" fill="#222" font-weight="normal" text-anchor="end">-90</text>
<text transform="translate(378.6,201.8) rotate(-90)" font-size="11" font-weight="bold" text-anchor="middle">V<tspan font-size="7.5" dy="2">m</tspan><tspan dy="-2"> (mV)</tspan></text>
<line x1="404.2" y1="195.4" x2="683" y2="195.4" stroke="#444" stroke-width="0.95" stroke-dasharray="1.5 1.45"/>
<path d="M403 219L405 219 406.5 217 408.4 213 408.6 184.5 409.4 219.5 411.5 216 414.5 212 414.7 188.7 415.5 218.5 417 216 420 212.5 423 214.3 426 214.8 429 214.8 432 215 435 215 438 214.6 441 214.6 444 214.8 447 214.6 450 214.7 453 214.6 456 214.9 459 214.9 462 215 465 214.6 468 214.9 471 214.9 474 214.6 477 215 480 215 483 214.7 486 215 489 214.7 492 214.8 495 215 498 215 501 214.6 504 214.8 507 214.8 510 214.7 513 214.6 516 214.7 519 214.9 522 214.6 525 214.8 527.3 214.8 528.3 217 529.5 219 535.5 219" fill="none" stroke="#26d326" stroke-width="1.0" stroke-linejoin="round"/>
<path d="M551 220L553.5 220 555.9 215 556 181 556.6 220.5 557.7 216.9 558.9 214.5 559 184.4 559.6 220.2 560.7 216.5 561.9 214 562 186 562.6 219.8 563.7 216.1 564.9 213.6 565 187 565.6 219.5 566.7 215.7 567.9 213.1 568 187.6 568.6 219.2 569.7 215.2 570.9 212.6 571 188 571.6 218.9 572.7 214.8 573.9 212.1 574 188.4 574.6 218.5 575.8 214.4 577.2 211.7 577.4 189 578 218.2 579.2 214 580.5 211.2 580.6 189.4 581.2 217.9 582.4 213.6 583.9 210.7 584 190 584.6 217.6 585.8 213.2 587.2 210.2 587.4 190.4 588 217.2 589.2 212.7 590.5 209.7 590.6 190.8 591.2 216.9 592.4 212.3 593.9 209.3 594 191.2 594.6 216.6 595.8 211.9 597.2 208.8 597.4 191.6 598 216.3 599.2 211.5 600.6 208.3 600.8 192 601.4 215.9 602.6 211.1 604.1 207.8 604.2 192.4 604.9 215.6 606 210.7 607.5 207.3 607.6 193 608.2 215.3 609.5 210.2 611.1 206.9 611.2 193.4 611.9 215 613.1 209.8 614.6 206.4 614.8 194 615.4 214.6 616.7 209.4 618.2 205.9 618.4 194.6 619 214.3 620.3 209 621.9 205.4 622 195.4 622.6 214 624 208.6 625.9 205 626 196.6 626.6 213.7 628 208.1 629.9 204.5 630 198 630.6 213.3 632.2 207.7 634.2 204 634.4 200 635 213 637 210 639.4 206.4 641 209 642 209.4 645 209.4 648 209.2 651 209.3 654 209.5 657 209.4 660 209.2 663 209.6 666 209.5 669 209.6 672 209.2 674 209.4 675 214 676 219 683 219.2" fill="none" stroke="#26d326" stroke-width="1.0" stroke-linejoin="round"/>
<text x="498.1" y="190.5" font-size="15.9" fill="#26d326" font-weight="bold" text-anchor="start">V261L</text>
<line x1="403" y1="237.6" x2="403" y2="291.6" stroke="#333" stroke-width="1.1"/>
<line x1="400.8" y1="243.4" x2="403" y2="243.4" stroke="#333" stroke-width="0.9"/>
<line x1="401.4" y1="251.4" x2="403" y2="251.4" stroke="#333" stroke-width="0.9"/>
<line x1="400.8" y1="259.5" x2="403" y2="259.5" stroke="#333" stroke-width="0.9"/>
<line x1="401.4" y1="267.6" x2="403" y2="267.6" stroke="#333" stroke-width="0.9"/>
<line x1="400.8" y1="275.6" x2="403" y2="275.6" stroke="#333" stroke-width="0.9"/>
<line x1="401.4" y1="283.6" x2="403" y2="283.6" stroke="#333" stroke-width="0.9"/>
<line x1="400.8" y1="291.7" x2="403" y2="291.7" stroke="#333" stroke-width="0.9"/>
<text x="400" y="245.6" font-size="9.8" fill="#222" font-weight="normal" text-anchor="end">45</text>
<text x="400" y="261.7" font-size="9.8" fill="#222" font-weight="normal" text-anchor="end">0</text>
<text x="400" y="277.8" font-size="9.8" fill="#222" font-weight="normal" text-anchor="end">-45</text>
<text x="400" y="293.9" font-size="9.8" fill="#222" font-weight="normal" text-anchor="end">-90</text>
<text transform="translate(378.6,265.9) rotate(-90)" font-size="11" font-weight="bold" text-anchor="middle">V<tspan font-size="7.5" dy="2">m</tspan><tspan dy="-2"> (mV)</tspan></text>
<line x1="404.2" y1="259.5" x2="683" y2="259.5" stroke="#444" stroke-width="0.95" stroke-dasharray="1.5 1.45"/>
<path d="M403 284.9L406 284.9 408.4 281.2 409 280.7 411 280.6 414 280.4 417 280.9 420 280.6 423 280.5 426 280.7 429 280.9 432 280.9 435 280.6 438 280.5 441 281 444 280.7 447 280.8 450 280.5 453 280.4 456 280.8 459 280.7 462 280.4 465 281 468 280.8 471 280.9 474 280.5 477 280.9 480 280.4 483 280.9 486 280.7 489 280.6 492 280.7 495 281 498 280.6 501 280.5 504 280.7 507 280.5 510 280.5 513 280.5 516 280.4 519 280.5 522 280.6 525 280.6 527.3 280.7 528.4 283.3 529.5 284.9 535.5 284.9" fill="none" stroke="#f7923c" stroke-width="1.0" stroke-linejoin="round"/>
<path d="M550 285L552.3 285 554.1 279 554.3 244.1 554.9 285.6 555.8 281.7 556.5 280.9 557.7 277 557.9 247.2 558.5 285.6 559.3 281.7 560 280.9 561.2 277 561.4 247.8 562 285.6 562.8 281.7 563.5 280.9 564.7 277 564.9 248.2 565.5 285.6 566.3 281.7 567 280.9 568.2 277 568.4 248.5 569 285.6 569.8 281.7 570.5 280.9 571.7 277 571.9 248.6 572.5 285.6 573.3 281.7 574 280.9 575.2 277 575.4 248.8 576 285.6 576.8 281.7 577.5 280.9 578.7 277 578.9 248.8 579.5 285.6 580.3 281.7 581 280.9 582.2 277 582.4 248.9 583 285.6 583.8 281.7 584.5 280.9 585.7 277 585.9 248.9 586.5 285.6 587.4 281.7 588.1 280.9 589.2 277 589.4 249 590 285.6 590.9 281.7 591.6 280.9 592.7 277 592.9 249 593.5 285.6 594.4 281.7 595.1 280.9 596.2 277 596.4 249 597 285.6 597.9 281.7 598.6 280.9 599.7 277 599.9 249 600.5 285.6 601.4 281.7 602.1 280.9 603.2 277 603.4 249 604 285.6 604.9 281.7 605.6 280.9 606.7 277 606.9 249 607.5 285.6 608.4 281.7 609.1 280.9 610.2 277 610.4 249 611 285.6 611.9 281.7 612.6 280.9 613.7 277 613.9 249 614.5 285.6 615.4 281.7 616.1 280.9 617.2 277 617.4 249 618 285.6 618.9 281.7 619.6 280.9 620.7 277 620.9 249 621.5 285.6 622.4 281.7 623.1 280.9 624.2 277 624.4 249 625 285.6 625.9 281.7 626.6 280.9 627.7 277 627.9 249 628.5 285.6 629.4 281.7 630.1 280.9 631.2 277 631.4 249 632 285.6 632.9 281.7 633.6 280.9 634.7 277 634.9 249 635.5 285.6 636.4 281.7 637.1 280.9 638.2 277 638.4 249 639 285.6 639.9 281.7 640.6 280.9 641.7 277 641.9 249 642.5 285.6 643.4 281.7 644.1 280.9 645.2 277 645.4 249 646 285.6 646.9 281.7 647.6 280.9 648.7 277 648.9 249 649.5 285.6 650.4 281.7 651.1 280.9 652.2 277 652.4 249 653 285.6 653.9 281.7 654.6 280.9 655.7 277 655.9 249 656.5 285.6 657.4 281.7 658.1 280.9 659.2 277 659.4 249 660 285.6 660.9 281.7 661.6 280.9 662.7 277 662.9 249 663.5 285.6 664.4 281.7 665.1 280.9 666.2 277 666.4 249 667 285.6 667.9 281.7 668.6 280.9 669.7 277 669.9 249 670.5 285.6 671.4 281.7 672.1 280.9 673.2 277 673.4 249 674 285.6 674.8 278 676.3 284.8 677.3 285.3 683 285.3" fill="none" stroke="#f7923c" stroke-width="1.0" stroke-linejoin="round"/>
<text x="488.1" y="255" font-size="15.9" fill="#f7923c" font-weight="bold" text-anchor="start">R1319Q</text>
<line x1="403" y1="305.6" x2="403" y2="359.6" stroke="#333" stroke-width="1.1"/>
<line x1="400.8" y1="311.4" x2="403" y2="311.4" stroke="#333" stroke-width="0.9"/>
<line x1="401.4" y1="319.4" x2="403" y2="319.4" stroke="#333" stroke-width="0.9"/>
<line x1="400.8" y1="327.5" x2="403" y2="327.5" stroke="#333" stroke-width="0.9"/>
<line x1="401.4" y1="335.6" x2="403" y2="335.6" stroke="#333" stroke-width="0.9"/>
<line x1="400.8" y1="343.6" x2="403" y2="343.6" stroke="#333" stroke-width="0.9"/>
<line x1="401.4" y1="351.6" x2="403" y2="351.6" stroke="#333" stroke-width="0.9"/>
<line x1="400.8" y1="359.7" x2="403" y2="359.7" stroke="#333" stroke-width="0.9"/>
<text x="400" y="313.6" font-size="9.8" fill="#222" font-weight="normal" text-anchor="end">45</text>
<text x="400" y="329.7" font-size="9.8" fill="#222" font-weight="normal" text-anchor="end">0</text>
<text x="400" y="345.8" font-size="9.8" fill="#222" font-weight="normal" text-anchor="end">-45</text>
<text x="400" y="361.9" font-size="9.8" fill="#222" font-weight="normal" text-anchor="end">-90</text>
<text transform="translate(378.6,333.9) rotate(-90)" font-size="11" font-weight="bold" text-anchor="middle">V<tspan font-size="7.5" dy="2">m</tspan><tspan dy="-2"> (mV)</tspan></text>
<line x1="404.2" y1="327.5" x2="683" y2="327.5" stroke="#444" stroke-width="0.95" stroke-dasharray="1.5 1.45"/>
<path d="M403 352.9L406 352.9 408.4 349.2 409 348.7 411 348.9 414 348.6 417 348.7 420 348.5 423 348.6 426 348.4 429 348.6 432 348.4 435 348.8 438 348.7 441 348.5 444 348.7 447 349 450 348.5 453 348.9 456 348.7 459 348.7 462 348.9 465 348.6 468 348.7 471 348.8 474 349 477 348.6 480 348.9 483 348.8 486 348.8 489 348.6 492 348.6 495 348.4 498 348.5 501 348.4 504 348.8 507 348.6 510 348.5 513 348.5 516 348.9 519 348.9 522 348.8 525 348.6 527.3 348.7 528.4 351.3 529.5 352.9 535.5 352.9" fill="none" stroke="#1d5f8a" stroke-width="1.0" stroke-linejoin="round"/>
<path d="M550.4 353L552.7 353 555.5 346 555.6 307.6 556.2 354.2 557.3 350.6 558.1 348.6 559.5 344 559.7 311 560.3 354.2 561.4 350.6 562.2 348.6 563.6 344 563.8 311.7 564.4 354.2 565.5 350.6 566.3 348.6 567.7 344 567.9 312.1 568.5 354.2 569.6 350.6 570.4 348.6 571.8 344 572 312.4 572.6 354.2 573.7 350.6 574.5 348.6 575.9 344 576.1 312.6 576.7 354.2 577.8 350.6 578.6 348.6 580 344 580.2 312.7 580.8 354.2 581.9 350.6 582.7 348.6 584.1 344 584.3 312.8 584.9 354.2 586 350.6 586.8 348.6 588.2 344 588.4 312.9 589 354.2 590 350.6 590.9 348.6 592.3 344 592.5 312.9 593.1 354.2 594.1 350.6 595 348.6 596.4 344 596.6 312.9 597.2 354.2 598.2 350.6 599.1 348.6 600.5 344 600.7 313 601.3 354.2 602.3 350.6 603.2 348.6 604.6 344 604.8 313 605.4 354.2 606.4 350.6 607.3 348.6 608.7 344 608.9 313 609.5 354.2 610.5 350.6 611.3 348.6 612.8 344 613 313 613.6 354.2 614.6 350.6 615.4 348.6 616.9 344 617.1 313 617.7 354.2 618.7 350.6 619.5 348.6 621 344 621.2 313 621.8 354.2 622.8 350.6 623.6 348.6 625.1 344 625.3 313 625.9 354.2 626.9 350.6 627.7 348.6 629.2 344 629.4 313 630 354.2 631 350.6 631.8 348.6 633.3 344 633.5 313 634.1 354.2 635.1 350.6 635.9 348.6 637.4 344 637.6 313 638.2 354.2 639.2 350.6 640 348.6 641.5 344 641.7 313 642.3 354.2 643.3 350.6 644.1 348.6 645.6 344 645.8 313 646.4 354.2 647.4 350.6 648.2 348.6 649.7 344 649.9 313 650.5 354.2 651.5 350.6 652.3 348.6 653.8 344 654 313 654.6 354.2 655.6 350.6 656.4 348.6 657.9 344 658.1 313 658.7 354.2 659.7 350.6 660.5 348.6 662 344 662.2 313 662.8 354.2 663.8 350.6 664.6 348.6 666.1 344 666.3 313 666.9 354.2 667.9 350.6 668.7 348.6 670.2 344 670.4 313 671 354.2 672 350.6 672.8 348.6 674.2 344 674.4 313 675 354.2 675.8 356 675.3 345 676.8 352 677.8 352.5 683 352.5" fill="none" stroke="#1d5f8a" stroke-width="1.0" stroke-linejoin="round"/>
<text x="494.4" y="319.7" font-size="15.9" fill="#1d5f8a" font-weight="bold" text-anchor="start">Q383E</text>
<text x="635" y="378.2" font-size="11" fill="#222" font-weight="normal" text-anchor="start">200 ms</text>
<line x1="643.4" y1="381.6" x2="664.9" y2="381.6" stroke="#333" stroke-width="1.5"/>
<text x="423.4" y="401.9" font-size="16.9" fill="#000" font-weight="bold" text-anchor="start">LO</text>
<line x1="403" y1="402.6" x2="403" y2="456.6" stroke="#333" stroke-width="1.1"/>
<line x1="400.8" y1="408.4" x2="403" y2="408.4" stroke="#333" stroke-width="0.9"/>
<line x1="401.4" y1="416.4" x2="403" y2="416.4" stroke="#333" stroke-width="0.9"/>
<line x1="400.8" y1="424.5" x2="403" y2="424.5" stroke="#333" stroke-width="0.9"/>
<line x1="401.4" y1="432.6" x2="403" y2="432.6" stroke="#333" stroke-width="0.9"/>
<line x1="400.8" y1="440.6" x2="403" y2="440.6" stroke="#333" stroke-width="0.9"/>
<line x1="401.4" y1="448.6" x2="403" y2="448.6" stroke="#333" stroke-width="0.9"/>
<line x1="400.8" y1="456.7" x2="403" y2="456.7" stroke="#333" stroke-width="0.9"/>
<text x="400" y="410.6" font-size="9.8" fill="#222" font-weight="normal" text-anchor="end">45</text>
<text x="400" y="426.7" font-size="9.8" fill="#222" font-weight="normal" text-anchor="end">0</text>
<text x="400" y="442.8" font-size="9.8" fill="#222" font-weight="normal" text-anchor="end">-45</text>
<text x="400" y="458.9" font-size="9.8" fill="#222" font-weight="normal" text-anchor="end">-90</text>
<text transform="translate(378.6,430.9) rotate(-90)" font-size="11" font-weight="bold" text-anchor="middle">V<tspan font-size="7.5" dy="2">m</tspan><tspan dy="-2"> (mV)</tspan></text>
<line x1="404.2" y1="424.5" x2="683" y2="424.5" stroke="#444" stroke-width="0.95" stroke-dasharray="1.5 1.45"/>
<path d="M403 450.6L405 450.6 407 448.5 409.3 445 409.8 420.9 410.8 449 412.5 447 414 446 417 445.7 420 445.8 423 445.9 426 445.7 429 445.9 432 445.7 435 446.2 438 446.2 441 445.9 444 445.7 447 446.2 450 445.8 453 445.8 456 445.6 459 445.8 462 445.9 465 445.9 468 445.7 471 445.9 474 445.6 477 445.7 480 445.6 483 445.8 486 445.6 489 445.6 492 445.8 495 445.7 498 446 501 445.9 504 446.1 507 446 510 446.1 513 446.2 516 445.8 519 445.8 522 446.2 525 445.7 527.3 445.9 528.3 448 529.5 450.6 535.5 450.6" fill="none" stroke="#1414f0" stroke-width="1.0" stroke-linejoin="round"/>
<path d="M551 450.4L553 450.4 555.2 444 555.6 417 556.6 448 558 440 559.6 436 561 440.5 563 441.5 565.5 440.5 567.6 439 569.5 441 572 441.2 575 441.1 578 440.7 581 441.2 584 441.3 587 441.1 590 441.2 593 441.2 596 440.7 599 441 602 441 605 441.2 608 441.2 611 441.2 614 441.1 617 441.3 620 441.1 623 441.1 626 440.8 629 440.7 632 440.7 635 440.9 638 440.7 641 441.2 644 441 647 441.1 650 441.1 653 441.1 656 441 659 440.7 662 441.2 665 441.2 668 441 671 441 674 441.1 675.4 441 676.2 446 677 450 683 450.4" fill="none" stroke="#1414f0" stroke-width="1.0" stroke-linejoin="round"/>
<text x="490.4" y="422.3" font-size="15.9" fill="#1414f0" font-weight="bold" text-anchor="start">E1211K</text>
<line x1="403" y1="467.7" x2="403" y2="521.6" stroke="#333" stroke-width="1.1"/>
<line x1="400.8" y1="473.4" x2="403" y2="473.4" stroke="#333" stroke-width="0.9"/>
<line x1="401.4" y1="481.5" x2="403" y2="481.5" stroke="#333" stroke-width="0.9"/>
<line x1="400.8" y1="489.6" x2="403" y2="489.6" stroke="#333" stroke-width="0.9"/>
<line x1="401.4" y1="497.6" x2="403" y2="497.6" stroke="#333" stroke-width="0.9"/>
<line x1="400.8" y1="505.7" x2="403" y2="505.7" stroke="#333" stroke-width="0.9"/>
<line x1="401.4" y1="513.7" x2="403" y2="513.7" stroke="#333" stroke-width="0.9"/>
<line x1="400.8" y1="521.8" x2="403" y2="521.8" stroke="#333" stroke-width="0.9"/>
<text x="400" y="475.6" font-size="9.8" fill="#222" font-weight="normal" text-anchor="end">45</text>
<text x="400" y="491.8" font-size="9.8" fill="#222" font-weight="normal" text-anchor="end">0</text>
<text x="400" y="507.9" font-size="9.8" fill="#222" font-weight="normal" text-anchor="end">-45</text>
<text x="400" y="524" font-size="9.8" fill="#222" font-weight="normal" text-anchor="end">-90</text>
<text transform="translate(378.6,495.9) rotate(-90)" font-size="11" font-weight="bold" text-anchor="middle">V<tspan font-size="7.5" dy="2">m</tspan><tspan dy="-2"> (mV)</tspan></text>
<line x1="404.2" y1="489.6" x2="683" y2="489.6" stroke="#444" stroke-width="0.95" stroke-dasharray="1.5 1.45"/>
<path d="M403 515.5L405 515.5 408.2 512.3 409 511.8 411 511.5 414 511.9 417 511.7 420 511.5 423 511.7 426 511.9 429 511.6 432 511.9 435 512.1 438 511.8 441 511.7 444 511.8 447 511.9 450 512 453 511.9 456 511.9 459 511.5 462 511.6 465 511.7 468 511.9 471 511.7 474 511.8 477 511.5 480 511.5 483 511.7 486 511.9 489 511.9 492 511.9 495 511.7 498 511.8 501 511.8 504 511.8 507 511.6 510 512 513 511.6 516 512.1 519 512.1 522 511.5 525 511.8 527.3 511.8 528.4 514.1 529.5 515.5 535.5 515.5" fill="none" stroke="#1fa0f5" stroke-width="1.0" stroke-linejoin="round"/>
<path d="M551 514.4L553.5 514.4 556 510 556.4 476 557.5 515 559 510 561 505.5 563 505 566 505.2 569 505.3 572 505 575 504.9 578 504.8 581 505.3 584 504.8 587 505 590 504.8 593 505 596 505.3 599 504.8 602 505.2 605 505 608 505.2 611 505.1 614 504.8 617 505.2 620 505 623 504.7 626 504.7 629 505 632 505 635 504.9 638 504.8 641 504.9 644 504.9 647 505.2 650 504.7 653 505.2 656 505.2 659 504.8 662 505.3 665 505.1 668 505.2 671 504.9 674 504.9 675.4 505 676.5 510 678 514.8 683 515" fill="none" stroke="#1fa0f5" stroke-width="1.0" stroke-linejoin="round"/>
<text x="496.3" y="488.9" font-size="15.9" fill="#1fa0f5" font-weight="bold" text-anchor="start">D195G</text>
<path d="M404.6 551.4L407.9 551.4 407.9 545.4 530 545.4 530 551.4 536 551.4" fill="none" stroke="#111" stroke-width="1.4" stroke-linejoin="round" stroke-linejoin="miter"/>
<text x="451.3" y="541.5" font-size="13.4" fill="#111" font-weight="normal" text-anchor="start">4 pA</text>
<path d="M552 550.2L555.5 550.2 555.5 537.4 675.8 537.4 675.8 550.2 683.5 550.2" fill="none" stroke="#111" stroke-width="1.4" stroke-linejoin="round" stroke-linejoin="miter"/>
<text x="598.6" y="533.3" font-size="13.4" fill="#111" font-weight="normal" text-anchor="start">10 pA</text>
<line x1="53.7" y1="616.8" x2="53.7" y2="769.6" stroke="#222" stroke-width="1.1"/>
<line x1="53.7" y1="769.6" x2="312.5" y2="769.6" stroke="#222" stroke-width="1.1"/>
<line x1="50.3" y1="760.1" x2="53.7" y2="760.1" stroke="#222" stroke-width="0.9"/>
<line x1="51.7" y1="750.9" x2="53.7" y2="750.9" stroke="#222" stroke-width="0.9"/>
<line x1="50.3" y1="741.7" x2="53.7" y2="741.7" stroke="#222" stroke-width="0.9"/>
<line x1="51.7" y1="732.5" x2="53.7" y2="732.5" stroke="#222" stroke-width="0.9"/>
<line x1="50.3" y1="723.3" x2="53.7" y2="723.3" stroke="#222" stroke-width="0.9"/>
<line x1="51.7" y1="714.1" x2="53.7" y2="714.1" stroke="#222" stroke-width="0.9"/>
<line x1="50.3" y1="704.9" x2="53.7" y2="704.9" stroke="#222" stroke-width="0.9"/>
<line x1="51.7" y1="695.8" x2="53.7" y2="695.8" stroke="#222" stroke-width="0.9"/>
<line x1="50.3" y1="686.6" x2="53.7" y2="686.6" stroke="#222" stroke-width="0.9"/>
<line x1="51.7" y1="677.4" x2="53.7" y2="677.4" stroke="#222" stroke-width="0.9"/>
<line x1="50.3" y1="668.2" x2="53.7" y2="668.2" stroke="#222" stroke-width="0.9"/>
<line x1="51.7" y1="659" x2="53.7" y2="659" stroke="#222" stroke-width="0.9"/>
<line x1="50.3" y1="649.8" x2="53.7" y2="649.8" stroke="#222" stroke-width="0.9"/>
<line x1="51.7" y1="640.6" x2="53.7" y2="640.6" stroke="#222" stroke-width="0.9"/>
<line x1="50.3" y1="631.4" x2="53.7" y2="631.4" stroke="#222" stroke-width="0.9"/>
<line x1="51.7" y1="622.2" x2="53.7" y2="622.2" stroke="#222" stroke-width="0.9"/>
<text x="46.9" y="763.3" font-size="10.2" fill="#222" font-weight="normal" text-anchor="end">0</text>
<text x="46.9" y="744.9" font-size="10.2" fill="#222" font-weight="normal" text-anchor="end">5</text>
<text x="46.9" y="726.5" font-size="10.2" fill="#222" font-weight="normal" text-anchor="end">10</text>
<text x="46.9" y="708.1" font-size="10.2" fill="#222" font-weight="normal" text-anchor="end">15</text>
<text x="46.9" y="689.8" font-size="10.2" fill="#222" font-weight="normal" text-anchor="end">20</text>
<text x="46.9" y="671.4" font-size="10.2" fill="#222" font-weight="normal" text-anchor="end">25</text>
<text x="46.9" y="653" font-size="10.2" fill="#222" font-weight="normal" text-anchor="end">30</text>
<text x="46.9" y="634.6" font-size="10.2" fill="#222" font-weight="normal" text-anchor="end">35</text>
<line x1="53.3" y1="769.6" x2="53.3" y2="771.6" stroke="#222" stroke-width="0.9"/>
<line x1="63.3" y1="769.6" x2="63.3" y2="773" stroke="#222" stroke-width="0.9"/>
<line x1="73.3" y1="769.6" x2="73.3" y2="771.6" stroke="#222" stroke-width="0.9"/>
<line x1="83.2" y1="769.6" x2="83.2" y2="773" stroke="#222" stroke-width="0.9"/>
<line x1="93.2" y1="769.6" x2="93.2" y2="771.6" stroke="#222" stroke-width="0.9"/>
<line x1="103.2" y1="769.6" x2="103.2" y2="773" stroke="#222" stroke-width="0.9"/>
<line x1="113.1" y1="769.6" x2="113.1" y2="771.6" stroke="#222" stroke-width="0.9"/>
<line x1="123.1" y1="769.6" x2="123.1" y2="773" stroke="#222" stroke-width="0.9"/>
<line x1="133.1" y1="769.6" x2="133.1" y2="771.6" stroke="#222" stroke-width="0.9"/>
<line x1="143" y1="769.6" x2="143" y2="773" stroke="#222" stroke-width="0.9"/>
<line x1="153" y1="769.6" x2="153" y2="771.6" stroke="#222" stroke-width="0.9"/>
<line x1="163" y1="769.6" x2="163" y2="773" stroke="#222" stroke-width="0.9"/>
<line x1="172.9" y1="769.6" x2="172.9" y2="771.6" stroke="#222" stroke-width="0.9"/>
<line x1="182.9" y1="769.6" x2="182.9" y2="773" stroke="#222" stroke-width="0.9"/>
<line x1="192.9" y1="769.6" x2="192.9" y2="771.6" stroke="#222" stroke-width="0.9"/>
<line x1="202.8" y1="769.6" x2="202.8" y2="773" stroke="#222" stroke-width="0.9"/>
<line x1="212.8" y1="769.6" x2="212.8" y2="771.6" stroke="#222" stroke-width="0.9"/>
<line x1="222.8" y1="769.6" x2="222.8" y2="773" stroke="#222" stroke-width="0.9"/>
<line x1="232.7" y1="769.6" x2="232.7" y2="771.6" stroke="#222" stroke-width="0.9"/>
<line x1="242.7" y1="769.6" x2="242.7" y2="773" stroke="#222" stroke-width="0.9"/>
<line x1="252.7" y1="769.6" x2="252.7" y2="771.6" stroke="#222" stroke-width="0.9"/>
<line x1="262.6" y1="769.6" x2="262.6" y2="773" stroke="#222" stroke-width="0.9"/>
<line x1="272.6" y1="769.6" x2="272.6" y2="771.6" stroke="#222" stroke-width="0.9"/>
<line x1="282.6" y1="769.6" x2="282.6" y2="773" stroke="#222" stroke-width="0.9"/>
<line x1="292.5" y1="769.6" x2="292.5" y2="771.6" stroke="#222" stroke-width="0.9"/>
<line x1="302.5" y1="769.6" x2="302.5" y2="773" stroke="#222" stroke-width="0.9"/>
<line x1="312.5" y1="769.6" x2="312.5" y2="771.6" stroke="#222" stroke-width="0.9"/>
<text x="63.3" y="784" font-size="10" fill="#222" font-weight="normal" text-anchor="middle">-2</text>
<text x="83.2" y="784" font-size="10" fill="#222" font-weight="normal" text-anchor="middle">0</text>
<text x="103.2" y="784" font-size="10" fill="#222" font-weight="normal" text-anchor="middle">2</text>
<text x="123.1" y="784" font-size="10" fill="#222" font-weight="normal" text-anchor="middle">4</text>
<text x="143" y="784" font-size="10" fill="#222" font-weight="normal" text-anchor="middle">6</text>
<text x="163" y="784" font-size="10" fill="#222" font-weight="normal" text-anchor="middle">8</text>
<text x="182.9" y="784" font-size="10" fill="#222" font-weight="normal" text-anchor="middle">10</text>
<text x="202.8" y="784" font-size="10" fill="#222" font-weight="normal" text-anchor="middle">12</text>
<text x="222.8" y="784" font-size="10" fill="#222" font-weight="normal" text-anchor="middle">14</text>
<text x="242.7" y="784" font-size="10" fill="#222" font-weight="normal" text-anchor="middle">16</text>
<text x="262.6" y="784" font-size="10" fill="#222" font-weight="normal" text-anchor="middle">18</text>
<text x="282.6" y="784" font-size="10" fill="#222" font-weight="normal" text-anchor="middle">20</text>
<text x="302.5" y="784" font-size="10" fill="#222" font-weight="normal" text-anchor="middle">22</text>
<text x="-0.9" y="619.5" font-size="26" fill="#000" font-weight="bold" text-anchor="start">b</text>
<text x="64" y="619.5" font-size="16.9" fill="#000" font-weight="bold" text-anchor="start">EI-severe</text>
<text x="176.4" y="798" font-size="11.6" fill="#000" font-weight="bold" text-anchor="middle">Stimulus current (pA)</text>
<text transform="translate(18.9,698.5) rotate(-90)" font-size="11.5" font-weight="bold" text-anchor="middle">AP frequency (Hz)</text>
<path d="M63.3 760.2C66.6 760.2 76.6 760.2 83.2 760.2C89.9 760.2 96.5 760.3 103.2 760.2C109.8 760.1 116.5 762.7 123.1 759.8C129.7 757 136.4 747.1 143 743C149.7 738.9 156.3 736.5 163 735.3C169.6 734 176.3 734 182.9 735.3C189.5 736.5 196.2 740.9 202.8 743C209.5 745 216.1 746.4 222.8 747.4C229.4 748.3 236.1 748.2 242.7 748.8C249.4 749.5 256 750.8 262.6 751.4C269.3 752 275.9 752.1 282.6 752.5C289.2 752.9 299.2 753.4 302.5 753.6" fill="none" stroke="#851a85" stroke-width="1.6"/>
<path d="M63.3 760.2C66.6 760.2 76.6 760.2 83.2 760.2C89.9 760.2 96.5 760.6 103.2 760.2C109.8 759.8 116.5 759.1 123.1 758C129.7 756.9 136.4 756 143 753.6C149.7 751.2 156.3 748.9 163 743.7C169.6 738.5 176.3 725.5 182.9 722.4C189.5 719.4 196.2 722.2 202.8 725.4C209.5 728.5 216.1 737.5 222.8 741.1C229.4 744.8 236.1 746 242.7 747.4C249.4 748.8 256 748.9 262.6 749.6C269.3 750.2 275.9 750.9 282.6 751.4C289.2 751.9 299.2 752.3 302.5 752.5" fill="none" stroke="#000" stroke-width="1.6"/>
<path d="M63.3 760.2C66.6 760.2 76.6 760.2 83.2 760.2C89.9 760.2 96.5 761.7 103.2 760.2C109.8 758.7 116.5 756.9 123.1 751C129.7 745.2 136.4 733.9 143 725C149.7 716.1 156.3 703.5 163 697.5C169.6 691.4 176.3 691.5 182.9 688.7C189.5 685.8 196.2 678.3 202.8 680.2C209.5 682.1 216.1 693.8 222.8 700C229.4 706.3 236.1 710.4 242.7 717.7C249.4 724.9 256 738.8 262.6 743.3C269.3 747.9 275.9 743.9 282.6 744.8C289.2 745.7 299.2 748.2 302.5 748.8" fill="none" stroke="#ff1aff" stroke-width="1.6"/>
<path d="M63.3 760.2C66.6 757.4 76.6 748.8 83.2 743.3C89.9 737.8 96.5 732.6 103.2 727.2C109.8 721.8 116.5 716.4 123.1 711C129.7 705.7 136.4 698.6 143 694.9C149.7 691.2 156.3 685.7 163 688.7C169.6 691.7 176.3 706.8 182.9 712.9C189.5 718.9 196.2 720.5 202.8 725C209.5 729.5 216.1 736.8 222.8 740C229.4 743.2 236.1 742.7 242.7 744.1C249.4 745.5 256 747.2 262.6 748.5C269.3 749.7 275.9 750.5 282.6 751.4C289.2 752.3 299.2 753.2 302.5 753.6" fill="none" stroke="#ff1a1a" stroke-width="1.6"/>
<path d="M63.3 760.2C66.6 760.2 76.6 760.2 83.2 760.2C89.9 760.2 96.5 766.3 103.2 760.2C109.8 754.1 116.5 733.1 123.1 723.5C129.7 713.9 136.4 706 143 702.6C149.7 699.2 156.3 702.3 163 703C169.6 703.7 176.3 703.6 182.9 706.6C189.5 709.7 196.2 718.9 202.8 721.3C209.5 723.8 216.1 718.5 222.8 721.3C229.4 724.1 236.1 734.6 242.7 738.2C249.4 741.8 256 740.6 262.6 743C269.3 745.3 275.9 750.3 282.6 752.5C289.2 754.7 299.2 755.6 302.5 756.2" fill="none" stroke="#f5168c" stroke-width="1.6"/>
<path d="M123.1 756.5V759.5M120.1 756.5H126.1M120.1 759.5H126.1" stroke="#000" stroke-width="1.4" fill="none"/>
<path d="M143 751.4V755.8M140 751.4H146M140 755.8H146" stroke="#000" stroke-width="1.4" fill="none"/>
<path d="M163 740V747.4M160 740H166M160 747.4H166" stroke="#000" stroke-width="1.4" fill="none"/>
<path d="M182.9 713.6V731.2M179.9 713.6H185.9M179.9 731.2H185.9" stroke="#000" stroke-width="1.4" fill="none"/>
<path d="M202.8 717.7V733.1M199.8 717.7H205.8M199.8 733.1H205.8" stroke="#000" stroke-width="1.4" fill="none"/>
<path d="M222.8 734.5V747.7M219.8 734.5H225.8M219.8 747.7H225.8" stroke="#000" stroke-width="1.4" fill="none"/>
<path d="M242.7 744.8V749.9M239.7 744.8H245.7M239.7 749.9H245.7" stroke="#000" stroke-width="1.4" fill="none"/>
<path d="M262.6 747.4V751.8M259.6 747.4H265.6M259.6 751.8H265.6" stroke="#000" stroke-width="1.4" fill="none"/>
<path d="M282.6 749.2V753.6M279.6 749.2H285.6M279.6 753.6H285.6" stroke="#000" stroke-width="1.4" fill="none"/>
<path d="M302.5 750.7V754.3M299.5 750.7H305.5M299.5 754.3H305.5" stroke="#000" stroke-width="1.4" fill="none"/>
<path d="M83.2 734.5V752.1M80.2 734.5H86.2M80.2 752.1H86.2" stroke="#ff1a1a" stroke-width="1.4" fill="none"/>
<path d="M103.2 716.2V738.2M100.2 716.2H106.2M100.2 738.2H106.2" stroke="#ff1a1a" stroke-width="1.4" fill="none"/>
<path d="M123.1 698.9V723.2M120.1 698.9H126.1M120.1 723.2H126.1" stroke="#ff1a1a" stroke-width="1.4" fill="none"/>
<path d="M143 678V711.8M140 678H146M140 711.8H146" stroke="#ff1a1a" stroke-width="1.4" fill="none"/>
<path d="M163 676.6V700.8M160 676.6H166M160 700.8H166" stroke="#ff1a1a" stroke-width="1.4" fill="none"/>
<path d="M182.9 697.1V728.7M179.9 697.1H185.9M179.9 728.7H185.9" stroke="#ff1a1a" stroke-width="1.4" fill="none"/>
<path d="M202.8 714V736M199.8 714H205.8M199.8 736H205.8" stroke="#ff1a1a" stroke-width="1.4" fill="none"/>
<path d="M222.8 734.5V745.5M219.8 734.5H225.8M219.8 745.5H225.8" stroke="#ff1a1a" stroke-width="1.4" fill="none"/>
<path d="M242.7 740.4V747.7M239.7 740.4H245.7M239.7 747.7H245.7" stroke="#ff1a1a" stroke-width="1.4" fill="none"/>
<path d="M262.6 745.5V751.4M259.6 745.5H265.6M259.6 751.4H265.6" stroke="#ff1a1a" stroke-width="1.4" fill="none"/>
<path d="M282.6 749.6V753.2M279.6 749.6H285.6M279.6 753.2H285.6" stroke="#ff1a1a" stroke-width="1.4" fill="none"/>
<path d="M302.5 751.8V755.4M299.5 751.8H305.5M299.5 755.4H305.5" stroke="#ff1a1a" stroke-width="1.4" fill="none"/>
<path d="M123.1 742.2V759.8M120.1 742.2H126.1M120.1 759.8H126.1" stroke="#ff1aff" stroke-width="1.4" fill="none"/>
<path d="M143 712.1V737.8M140 712.1H146M140 737.8H146" stroke="#ff1aff" stroke-width="1.4" fill="none"/>
<path d="M163 686.5V708.5M160 686.5H166M160 708.5H166" stroke="#ff1aff" stroke-width="1.4" fill="none"/>
<path d="M182.9 675.5V701.9M179.9 675.5H185.9M179.9 701.9H185.9" stroke="#ff1aff" stroke-width="1.4" fill="none"/>
<path d="M202.8 663.7V696.7M199.8 663.7H205.8M199.8 696.7H205.8" stroke="#ff1aff" stroke-width="1.4" fill="none"/>
<path d="M222.8 685V715.1M219.8 685H225.8M219.8 715.1H225.8" stroke="#ff1aff" stroke-width="1.4" fill="none"/>
<path d="M242.7 701.5V733.8M239.7 701.5H245.7M239.7 733.8H245.7" stroke="#ff1aff" stroke-width="1.4" fill="none"/>
<path d="M262.6 737.5V749.2M259.6 737.5H265.6M259.6 749.2H265.6" stroke="#ff1aff" stroke-width="1.4" fill="none"/>
<path d="M282.6 741.9V747.7M279.6 741.9H285.6M279.6 747.7H285.6" stroke="#ff1aff" stroke-width="1.4" fill="none"/>
<path d="M302.5 746.6V751M299.5 746.6H305.5M299.5 751H305.5" stroke="#ff1aff" stroke-width="1.4" fill="none"/>
<path d="M123.1 711.4V735.6M120.1 711.4H126.1M120.1 735.6H126.1" stroke="#f5168c" stroke-width="1.4" fill="none"/>
<path d="M143 689.8V715.5M140 689.8H146M140 715.5H146" stroke="#f5168c" stroke-width="1.4" fill="none"/>
<path d="M163 692.7V713.2M160 692.7H166M160 713.2H166" stroke="#f5168c" stroke-width="1.4" fill="none"/>
<path d="M182.9 695.6V717.7M179.9 695.6H185.9M179.9 717.7H185.9" stroke="#f5168c" stroke-width="1.4" fill="none"/>
<path d="M202.8 710.3V732.3M199.8 710.3H205.8M199.8 732.3H205.8" stroke="#f5168c" stroke-width="1.4" fill="none"/>
<path d="M222.8 713.6V729M219.8 713.6H225.8M219.8 729H225.8" stroke="#f5168c" stroke-width="1.4" fill="none"/>
<path d="M242.7 732.7V743.7M239.7 732.7H245.7M239.7 743.7H245.7" stroke="#f5168c" stroke-width="1.4" fill="none"/>
<path d="M262.6 739.3V746.6M259.6 739.3H265.6M259.6 746.6H265.6" stroke="#f5168c" stroke-width="1.4" fill="none"/>
<path d="M282.6 750.7V754.3M279.6 750.7H285.6M279.6 754.3H285.6" stroke="#f5168c" stroke-width="1.4" fill="none"/>
<path d="M302.5 754.7V757.6M299.5 754.7H305.5M299.5 757.6H305.5" stroke="#f5168c" stroke-width="1.4" fill="none"/>
<path d="M143 736.7V749.2M140 736.7H146M140 749.2H146" stroke="#851a85" stroke-width="1.4" fill="none"/>
<path d="M163 725V745.5M160 725H166M160 745.5H166" stroke="#851a85" stroke-width="1.4" fill="none"/>
<path d="M182.9 728.7V741.9M179.9 728.7H185.9M179.9 741.9H185.9" stroke="#851a85" stroke-width="1.4" fill="none"/>
<path d="M202.8 735.6V750.3M199.8 735.6H205.8M199.8 750.3H205.8" stroke="#851a85" stroke-width="1.4" fill="none"/>
<path d="M222.8 743.7V751M219.8 743.7H225.8M219.8 751H225.8" stroke="#851a85" stroke-width="1.4" fill="none"/>
<path d="M242.7 745.9V751.8M239.7 745.9H245.7M239.7 751.8H245.7" stroke="#851a85" stroke-width="1.4" fill="none"/>
<path d="M262.6 749.2V753.6M259.6 749.2H265.6M259.6 753.6H265.6" stroke="#851a85" stroke-width="1.4" fill="none"/>
<path d="M282.6 750.7V754.3M279.6 750.7H285.6M279.6 754.3H285.6" stroke="#851a85" stroke-width="1.4" fill="none"/>
<path d="M302.5 751.8V755.4M299.5 751.8H305.5M299.5 755.4H305.5" stroke="#851a85" stroke-width="1.4" fill="none"/>
<circle cx="63.3" cy="760.2" r="2.85" fill="#fff" stroke="#851a85" stroke-width="1.8"/>
<circle cx="83.2" cy="760.2" r="2.85" fill="#fff" stroke="#851a85" stroke-width="1.8"/>
<circle cx="103.2" cy="760.2" r="2.85" fill="#fff" stroke="#851a85" stroke-width="1.8"/>
<circle cx="123.1" cy="759.8" r="2.85" fill="#fff" stroke="#851a85" stroke-width="1.8"/>
<circle cx="143" cy="743" r="2.85" fill="#fff" stroke="#851a85" stroke-width="1.8"/>
<circle cx="163" cy="735.3" r="2.85" fill="#fff" stroke="#851a85" stroke-width="1.8"/>
<circle cx="182.9" cy="735.3" r="2.85" fill="#fff" stroke="#851a85" stroke-width="1.8"/>
<circle cx="202.8" cy="743" r="2.85" fill="#fff" stroke="#851a85" stroke-width="1.8"/>
<circle cx="222.8" cy="747.4" r="2.85" fill="#fff" stroke="#851a85" stroke-width="1.8"/>
<circle cx="242.7" cy="748.8" r="2.85" fill="#fff" stroke="#851a85" stroke-width="1.8"/>
<circle cx="262.6" cy="751.4" r="2.85" fill="#fff" stroke="#851a85" stroke-width="1.8"/>
<circle cx="282.6" cy="752.5" r="2.85" fill="#fff" stroke="#851a85" stroke-width="1.8"/>
<circle cx="302.5" cy="753.6" r="2.85" fill="#fff" stroke="#851a85" stroke-width="1.8"/>
<circle cx="63.3" cy="760.2" r="3.5" fill="#000"/>
<circle cx="83.2" cy="760.2" r="3.5" fill="#000"/>
<circle cx="103.2" cy="760.2" r="3.5" fill="#000"/>
<circle cx="123.1" cy="758" r="3.5" fill="#000"/>
<circle cx="143" cy="753.6" r="3.5" fill="#000"/>
<circle cx="163" cy="743.7" r="3.5" fill="#000"/>
<circle cx="182.9" cy="722.4" r="3.5" fill="#000"/>
<circle cx="202.8" cy="725.4" r="3.5" fill="#000"/>
<circle cx="222.8" cy="741.1" r="3.5" fill="#000"/>
<circle cx="242.7" cy="747.4" r="3.5" fill="#000"/>
<circle cx="262.6" cy="749.6" r="3.5" fill="#000"/>
<circle cx="282.6" cy="751.4" r="3.5" fill="#000"/>
<circle cx="302.5" cy="752.5" r="3.5" fill="#000"/>
<circle cx="63.3" cy="760.2" r="2.85" fill="#fff" stroke="#ff1aff" stroke-width="1.8"/>
<circle cx="83.2" cy="760.2" r="2.85" fill="#fff" stroke="#ff1aff" stroke-width="1.8"/>
<circle cx="103.2" cy="760.2" r="2.85" fill="#fff" stroke="#ff1aff" stroke-width="1.8"/>
<circle cx="123.1" cy="751" r="2.85" fill="#fff" stroke="#ff1aff" stroke-width="1.8"/>
<circle cx="143" cy="725" r="2.85" fill="#fff" stroke="#ff1aff" stroke-width="1.8"/>
<circle cx="163" cy="697.5" r="2.85" fill="#fff" stroke="#ff1aff" stroke-width="1.8"/>
<circle cx="182.9" cy="688.7" r="2.85" fill="#fff" stroke="#ff1aff" stroke-width="1.8"/>
<circle cx="202.8" cy="680.2" r="2.85" fill="#fff" stroke="#ff1aff" stroke-width="1.8"/>
<circle cx="222.8" cy="700" r="2.85" fill="#fff" stroke="#ff1aff" stroke-width="1.8"/>
<circle cx="242.7" cy="717.7" r="2.85" fill="#fff" stroke="#ff1aff" stroke-width="1.8"/>
<circle cx="262.6" cy="743.3" r="2.85" fill="#fff" stroke="#ff1aff" stroke-width="1.8"/>
<circle cx="282.6" cy="744.8" r="2.85" fill="#fff" stroke="#ff1aff" stroke-width="1.8"/>
<circle cx="302.5" cy="748.8" r="2.85" fill="#fff" stroke="#ff1aff" stroke-width="1.8"/>
<circle cx="63.3" cy="760.2" r="2.85" fill="#fff" stroke="#ff1a1a" stroke-width="1.8"/>
<circle cx="83.2" cy="743.3" r="2.85" fill="#fff" stroke="#ff1a1a" stroke-width="1.8"/>
<circle cx="103.2" cy="727.2" r="2.85" fill="#fff" stroke="#ff1a1a" stroke-width="1.8"/>
<circle cx="123.1" cy="711" r="2.85" fill="#fff" stroke="#ff1a1a" stroke-width="1.8"/>
<circle cx="143" cy="694.9" r="2.85" fill="#fff" stroke="#ff1a1a" stroke-width="1.8"/>
<circle cx="163" cy="688.7" r="2.85" fill="#fff" stroke="#ff1a1a" stroke-width="1.8"/>
<circle cx="182.9" cy="712.9" r="2.85" fill="#fff" stroke="#ff1a1a" stroke-width="1.8"/>
<circle cx="202.8" cy="725" r="2.85" fill="#fff" stroke="#ff1a1a" stroke-width="1.8"/>
<circle cx="222.8" cy="740" r="2.85" fill="#fff" stroke="#ff1a1a" stroke-width="1.8"/>
<circle cx="242.7" cy="744.1" r="2.85" fill="#fff" stroke="#ff1a1a" stroke-width="1.8"/>
<circle cx="262.6" cy="748.5" r="2.85" fill="#fff" stroke="#ff1a1a" stroke-width="1.8"/>
<circle cx="282.6" cy="751.4" r="2.85" fill="#fff" stroke="#ff1a1a" stroke-width="1.8"/>
<circle cx="302.5" cy="753.6" r="2.85" fill="#fff" stroke="#ff1a1a" stroke-width="1.8"/>
<circle cx="63.3" cy="760.2" r="2.85" fill="#fff" stroke="#f5168c" stroke-width="1.8"/>
<circle cx="83.2" cy="760.2" r="2.85" fill="#fff" stroke="#f5168c" stroke-width="1.8"/>
<circle cx="103.2" cy="760.2" r="2.85" fill="#fff" stroke="#f5168c" stroke-width="1.8"/>
<circle cx="123.1" cy="723.5" r="2.85" fill="#fff" stroke="#f5168c" stroke-width="1.8"/>
<circle cx="143" cy="702.6" r="2.85" fill="#fff" stroke="#f5168c" stroke-width="1.8"/>
<circle cx="163" cy="703" r="2.85" fill="#fff" stroke="#f5168c" stroke-width="1.8"/>
<circle cx="182.9" cy="706.6" r="2.85" fill="#fff" stroke="#f5168c" stroke-width="1.8"/>
<circle cx="202.8" cy="721.3" r="2.85" fill="#fff" stroke="#f5168c" stroke-width="1.8"/>
<circle cx="222.8" cy="721.3" r="2.85" fill="#fff" stroke="#f5168c" stroke-width="1.8"/>
<circle cx="242.7" cy="738.2" r="2.85" fill="#fff" stroke="#f5168c" stroke-width="1.8"/>
<circle cx="262.6" cy="743" r="2.85" fill="#fff" stroke="#f5168c" stroke-width="1.8"/>
<circle cx="282.6" cy="752.5" r="2.85" fill="#fff" stroke="#f5168c" stroke-width="1.8"/>
<circle cx="302.5" cy="756.2" r="2.85" fill="#fff" stroke="#f5168c" stroke-width="1.8"/>
<path d="M78.8 736.3L78.80 733.85M78.8 736.3L81.13 735.54M78.8 736.3L80.24 738.28M78.8 736.3L77.36 738.28M78.8 736.3L76.47 735.54" stroke="#ff1a1a" stroke-width="1.15" stroke-linecap="round" fill="none"/>
<path d="M100.4 720.2L100.40 717.75M100.4 720.2L102.73 719.44M100.4 720.2L101.84 722.18M100.4 720.2L98.96 722.18M100.4 720.2L98.07 719.44" stroke="#ff1a1a" stroke-width="1.15" stroke-linecap="round" fill="none"/>
<path d="M118 703.9L118.00 701.45M118 703.9L120.33 703.14M118 703.9L119.44 705.88M118 703.9L116.56 705.88M118 703.9L115.67 703.14" stroke="#ff1a1a" stroke-width="1.15" stroke-linecap="round" fill="none"/>
<path d="M148.4 685.1L148.40 682.65M148.4 685.1L150.73 684.34M148.4 685.1L149.84 687.08M148.4 685.1L146.96 687.08M148.4 685.1L146.07 684.34" stroke="#ff1a1a" stroke-width="1.15" stroke-linecap="round" fill="none"/>
<path d="M167.9 680.5L167.90 678.05M167.9 680.5L170.23 679.74M167.9 680.5L169.34 682.48M167.9 680.5L166.46 682.48M167.9 680.5L165.57 679.74" stroke="#ff1a1a" stroke-width="1.15" stroke-linecap="round" fill="none"/>
<path d="M117.4 719.4L117.40 716.95M117.4 719.4L119.73 718.64M117.4 719.4L118.84 721.38M117.4 719.4L115.96 721.38M117.4 719.4L115.07 718.64" stroke="#f5168c" stroke-width="1.15" stroke-linecap="round" fill="none"/>
<path d="M149.7 703.9L149.70 701.45M149.7 703.9L152.03 703.14M149.7 703.9L151.14 705.88M149.7 703.9L148.26 705.88M149.7 703.9L147.37 703.14" stroke="#f5168c" stroke-width="1.15" stroke-linecap="round" fill="none"/>
<path d="M168.5 706.5L168.50 704.05M168.5 706.5L170.83 705.74M168.5 706.5L169.94 708.48M168.5 706.5L167.06 708.48M168.5 706.5L166.17 705.74" stroke="#f5168c" stroke-width="1.15" stroke-linecap="round" fill="none"/>
<path d="M169 698.4L169.00 695.95M169 698.4L171.33 697.64M169 698.4L170.44 700.38M169 698.4L167.56 700.38M169 698.4L166.67 697.64" stroke="#ff1aff" stroke-width="1.15" stroke-linecap="round" fill="none"/>
<path d="M187.9 678.9L187.90 676.45M187.9 678.9L190.23 678.14M187.9 678.9L189.34 680.88M187.9 678.9L186.46 680.88M187.9 678.9L185.57 678.14" stroke="#ff1aff" stroke-width="1.15" stroke-linecap="round" fill="none"/>
<path d="M208.3 672.4L208.30 669.95M208.3 672.4L210.63 671.64M208.3 672.4L209.74 674.38M208.3 672.4L206.86 674.38M208.3 672.4L205.97 671.64" stroke="#ff1aff" stroke-width="1.15" stroke-linecap="round" fill="none"/>
<path d="M227.5 691.8L227.50 689.35M227.5 691.8L229.83 691.04M227.5 691.8L228.94 693.78M227.5 691.8L226.06 693.78M227.5 691.8L225.17 691.04" stroke="#ff1aff" stroke-width="1.15" stroke-linecap="round" fill="none"/>
<line x1="57.5" y1="633.2" x2="79.7" y2="633.2" stroke="#000" stroke-width="1.5"/>
<circle cx="68.6" cy="633.2" r="3.5" fill="#000"/>
<text x="82.3" y="637.1" font-size="10.3" fill="#222" font-weight="normal" text-anchor="start">WT (9)</text>
<line x1="57.5" y1="645.4" x2="79.7" y2="645.4" stroke="#ff1a1a" stroke-width="1.5"/>
<circle cx="68.6" cy="645.4" r="2.85" fill="#fff" stroke="#ff1a1a" stroke-width="1.8"/>
<text x="82.3" y="649.3" font-size="10.3" fill="#222" font-weight="normal" text-anchor="start">R1629L (7)</text>
<line x1="57.5" y1="657.6" x2="79.7" y2="657.6" stroke="#ff1aff" stroke-width="1.5"/>
<circle cx="68.6" cy="657.6" r="2.85" fill="#fff" stroke="#ff1aff" stroke-width="1.8"/>
<text x="82.3" y="661.5" font-size="10.3" fill="#222" font-weight="normal" text-anchor="start">E999K (5)</text>
<line x1="57.5" y1="669.8" x2="79.7" y2="669.8" stroke="#f5168c" stroke-width="1.5"/>
<circle cx="68.6" cy="669.8" r="2.85" fill="#fff" stroke="#f5168c" stroke-width="1.8"/>
<text x="82.3" y="673.7" font-size="10.3" fill="#222" font-weight="normal" text-anchor="start">R856Q (6)</text>
<line x1="57.5" y1="682" x2="79.7" y2="682" stroke="#851a85" stroke-width="1.5"/>
<circle cx="68.6" cy="682" r="2.85" fill="#fff" stroke="#851a85" stroke-width="1.8"/>
<text x="82.3" y="685.9" font-size="10.3" fill="#222" font-weight="normal" text-anchor="start">K905N (9)</text>
<line x1="415.8" y1="618.2" x2="415.8" y2="769.6" stroke="#222" stroke-width="1.1"/>
<line x1="415.8" y1="769.6" x2="672.8" y2="769.6" stroke="#222" stroke-width="1.1"/>
<line x1="412.4" y1="760.2" x2="415.8" y2="760.2" stroke="#222" stroke-width="0.9"/>
<line x1="413.8" y1="751.1" x2="415.8" y2="751.1" stroke="#222" stroke-width="0.9"/>
<line x1="412.4" y1="742" x2="415.8" y2="742" stroke="#222" stroke-width="0.9"/>
<line x1="413.8" y1="732.9" x2="415.8" y2="732.9" stroke="#222" stroke-width="0.9"/>
<line x1="412.4" y1="723.8" x2="415.8" y2="723.8" stroke="#222" stroke-width="0.9"/>
<line x1="413.8" y1="714.7" x2="415.8" y2="714.7" stroke="#222" stroke-width="0.9"/>
<line x1="412.4" y1="705.6" x2="415.8" y2="705.6" stroke="#222" stroke-width="0.9"/>
<line x1="413.8" y1="696.4" x2="415.8" y2="696.4" stroke="#222" stroke-width="0.9"/>
<line x1="412.4" y1="687.3" x2="415.8" y2="687.3" stroke="#222" stroke-width="0.9"/>
<line x1="413.8" y1="678.2" x2="415.8" y2="678.2" stroke="#222" stroke-width="0.9"/>
<line x1="412.4" y1="669.1" x2="415.8" y2="669.1" stroke="#222" stroke-width="0.9"/>
<line x1="413.8" y1="660" x2="415.8" y2="660" stroke="#222" stroke-width="0.9"/>
<line x1="412.4" y1="650.9" x2="415.8" y2="650.9" stroke="#222" stroke-width="0.9"/>
<line x1="413.8" y1="641.8" x2="415.8" y2="641.8" stroke="#222" stroke-width="0.9"/>
<line x1="412.4" y1="632.7" x2="415.8" y2="632.7" stroke="#222" stroke-width="0.9"/>
<line x1="413.8" y1="623.6" x2="415.8" y2="623.6" stroke="#222" stroke-width="0.9"/>
<text x="409.6" y="763.4" font-size="10.2" fill="#222" font-weight="normal" text-anchor="end">0</text>
<text x="409.6" y="745.2" font-size="10.2" fill="#222" font-weight="normal" text-anchor="end">5</text>
<text x="409.6" y="727" font-size="10.2" fill="#222" font-weight="normal" text-anchor="end">10</text>
<text x="409.6" y="708.8" font-size="10.2" fill="#222" font-weight="normal" text-anchor="end">15</text>
<text x="409.6" y="690.5" font-size="10.2" fill="#222" font-weight="normal" text-anchor="end">20</text>
<text x="409.6" y="672.3" font-size="10.2" fill="#222" font-weight="normal" text-anchor="end">25</text>
<text x="409.6" y="654.1" font-size="10.2" fill="#222" font-weight="normal" text-anchor="end">30</text>
<text x="409.6" y="635.9" font-size="10.2" fill="#222" font-weight="normal" text-anchor="end">35</text>
<line x1="415.6" y1="769.6" x2="415.6" y2="771.6" stroke="#222" stroke-width="0.9"/>
<line x1="425.5" y1="769.6" x2="425.5" y2="773" stroke="#222" stroke-width="0.9"/>
<line x1="435.4" y1="769.6" x2="435.4" y2="771.6" stroke="#222" stroke-width="0.9"/>
<line x1="445.3" y1="769.6" x2="445.3" y2="773" stroke="#222" stroke-width="0.9"/>
<line x1="455.2" y1="769.6" x2="455.2" y2="771.6" stroke="#222" stroke-width="0.9"/>
<line x1="465.1" y1="769.6" x2="465.1" y2="773" stroke="#222" stroke-width="0.9"/>
<line x1="474.9" y1="769.6" x2="474.9" y2="771.6" stroke="#222" stroke-width="0.9"/>
<line x1="484.8" y1="769.6" x2="484.8" y2="773" stroke="#222" stroke-width="0.9"/>
<line x1="494.7" y1="769.6" x2="494.7" y2="771.6" stroke="#222" stroke-width="0.9"/>
<line x1="504.6" y1="769.6" x2="504.6" y2="773" stroke="#222" stroke-width="0.9"/>
<line x1="514.5" y1="769.6" x2="514.5" y2="771.6" stroke="#222" stroke-width="0.9"/>
<line x1="524.4" y1="769.6" x2="524.4" y2="773" stroke="#222" stroke-width="0.9"/>
<line x1="534.3" y1="769.6" x2="534.3" y2="771.6" stroke="#222" stroke-width="0.9"/>
<line x1="544.2" y1="769.6" x2="544.2" y2="773" stroke="#222" stroke-width="0.9"/>
<line x1="554.1" y1="769.6" x2="554.1" y2="771.6" stroke="#222" stroke-width="0.9"/>
<line x1="564" y1="769.6" x2="564" y2="773" stroke="#222" stroke-width="0.9"/>
<line x1="573.9" y1="769.6" x2="573.9" y2="771.6" stroke="#222" stroke-width="0.9"/>
<line x1="583.7" y1="769.6" x2="583.7" y2="773" stroke="#222" stroke-width="0.9"/>
<line x1="593.6" y1="769.6" x2="593.6" y2="771.6" stroke="#222" stroke-width="0.9"/>
<line x1="603.5" y1="769.6" x2="603.5" y2="773" stroke="#222" stroke-width="0.9"/>
<line x1="613.4" y1="769.6" x2="613.4" y2="771.6" stroke="#222" stroke-width="0.9"/>
<line x1="623.3" y1="769.6" x2="623.3" y2="773" stroke="#222" stroke-width="0.9"/>
<line x1="633.2" y1="769.6" x2="633.2" y2="771.6" stroke="#222" stroke-width="0.9"/>
<line x1="643.1" y1="769.6" x2="643.1" y2="773" stroke="#222" stroke-width="0.9"/>
<line x1="653" y1="769.6" x2="653" y2="771.6" stroke="#222" stroke-width="0.9"/>
<line x1="662.9" y1="769.6" x2="662.9" y2="773" stroke="#222" stroke-width="0.9"/>
<line x1="672.8" y1="769.6" x2="672.8" y2="771.6" stroke="#222" stroke-width="0.9"/>
<text x="425.5" y="784" font-size="10" fill="#222" font-weight="normal" text-anchor="middle">-2</text>
<text x="445.3" y="784" font-size="10" fill="#222" font-weight="normal" text-anchor="middle">0</text>
<text x="465.1" y="784" font-size="10" fill="#222" font-weight="normal" text-anchor="middle">2</text>
<text x="484.8" y="784" font-size="10" fill="#222" font-weight="normal" text-anchor="middle">4</text>
<text x="504.6" y="784" font-size="10" fill="#222" font-weight="normal" text-anchor="middle">6</text>
<text x="524.4" y="784" font-size="10" fill="#222" font-weight="normal" text-anchor="middle">8</text>
<text x="544.2" y="784" font-size="10" fill="#222" font-weight="normal" text-anchor="middle">10</text>
<text x="564" y="784" font-size="10" fill="#222" font-weight="normal" text-anchor="middle">12</text>
<text x="583.7" y="784" font-size="10" fill="#222" font-weight="normal" text-anchor="middle">14</text>
<text x="603.5" y="784" font-size="10" fill="#222" font-weight="normal" text-anchor="middle">16</text>
<text x="623.3" y="784" font-size="10" fill="#222" font-weight="normal" text-anchor="middle">18</text>
<text x="643.1" y="784" font-size="10" fill="#222" font-weight="normal" text-anchor="middle">20</text>
<text x="662.9" y="784" font-size="10" fill="#222" font-weight="normal" text-anchor="middle">22</text>
<text x="369" y="619.5" font-size="26" fill="#000" font-weight="bold" text-anchor="start">c</text>
<text x="423.6" y="619.5" font-size="16.9" fill="#000" font-weight="bold" text-anchor="start">EI-variable</text>
<text x="537.9" y="798" font-size="11.6" fill="#000" font-weight="bold" text-anchor="middle">Stimulus current (pA)</text>
<text transform="translate(381.2,698.5) rotate(-90)" font-size="11.5" font-weight="bold" text-anchor="middle">AP frequency (Hz)</text>
<path d="M425.5 760.1C428.8 760.1 438.7 760.1 445.3 760.1C451.9 760.1 458.5 760.3 465.1 760.1C471.7 759.9 478.2 760.1 484.8 759C491.4 757.9 498 756.1 504.6 753.5C511.2 751 517.8 748.6 524.4 743.6C531 738.6 537.6 726.4 544.2 723.5C550.8 720.6 557.4 723.2 564 726.1C570.6 728.9 577.1 736.9 583.7 740.7C590.3 744.5 596.9 747 603.5 748.8C610.1 750.5 616.7 750.3 623.3 751C629.9 751.6 636.5 752.5 643.1 752.8C649.7 753.1 659.6 752.8 662.9 752.8" fill="none" stroke="#000" stroke-width="1.6"/>
<path d="M425.5 760.1C428.8 760.1 438.7 760.3 445.3 760.1C451.9 759.9 458.5 759.6 465.1 759C471.7 758.4 478.2 763.4 484.8 756.4C491.4 749.5 498 733.9 504.6 717.3C511.2 700.6 517.8 668.9 524.4 656.5C531 644.1 537.6 641.3 544.2 643C550.8 644.7 557.4 656.3 564 666.8C570.6 677.3 577.1 695 583.7 705.9C590.3 716.9 596.9 725.6 603.5 732.3C610.1 738.9 616.7 743.4 623.3 745.8C629.9 748.2 639.8 746.4 643.1 746.6" fill="none" stroke="#b9621e" stroke-width="1.6"/>
<path d="M425.5 760.1C428.8 760.1 438.7 762.3 445.3 760.1C451.9 757.9 458.5 753 465.1 746.9C471.7 740.8 478.2 733.5 484.8 723.5C491.4 713.5 498 694.8 504.6 686.9C511.2 679 517.8 679.6 524.4 675.9C531 672.3 537.6 664.8 544.2 664.9C550.8 665.1 557.4 671.6 564 677C570.6 682.4 577.1 692 583.7 697.5C590.3 703 596.9 706.1 603.5 710C610.1 713.9 616.7 715.7 623.3 720.9C629.9 726.2 636.5 737 643.1 741.4C649.7 745.8 659.6 746.3 662.9 747.3" fill="none" stroke="#1e8a1e" stroke-width="1.6"/>
<path d="M425.5 760.1C428.8 760.1 438.7 760.3 445.3 760.1C451.9 759.9 458.5 761.4 465.1 759C471.7 756.6 478.2 750.7 484.8 745.5C491.4 740.2 498 735.9 504.6 727.5C511.2 719.2 517.8 703.1 524.4 695.3C531 687.5 537.6 682 544.2 680.7C550.8 679.4 557.4 680.4 564 687.6C570.6 694.8 577.1 714.7 583.7 723.9C590.3 733 596.9 738.9 603.5 742.5C610.1 746.2 616.7 744 623.3 745.8C629.9 747.7 636.5 751.7 643.1 753.5C649.7 755.3 659.6 756.3 662.9 756.8" fill="none" stroke="#26d326" stroke-width="1.6"/>
<path d="M425.5 760.1C428.8 760.1 438.7 760.4 445.3 760.1C451.9 759.8 458.5 759.2 465.1 758.3C471.7 757.3 478.2 762.7 484.8 754.2C491.4 745.8 498 721.6 504.6 707.4C511.2 693.2 517.8 676.2 524.4 669C531 661.8 537.6 660.1 544.2 664.2C550.8 668.4 557.4 682.4 564 693.9C570.6 705.3 577.1 724.5 583.7 733C590.3 741.6 596.9 743 603.5 745.1C610.1 747.2 616.7 745.7 623.3 745.8C629.9 745.9 639.8 745.8 643.1 745.8" fill="none" stroke="#f7923c" stroke-width="1.6"/>
<path d="M425.5 760.1C428.8 760.1 438.7 760.1 445.3 760.1C451.9 760.1 458.5 760.1 465.1 760.1C471.7 760.1 478.2 762.6 484.8 760.1C491.4 757.6 498 751.7 504.6 745.1C511.2 738.5 517.8 733.7 524.4 720.6C531 707.5 537.6 679.6 544.2 666.4C550.8 653.2 557.4 646.9 564 641.1C570.6 635.4 577.1 633.3 583.7 632C590.3 630.7 596.9 631.8 603.5 633.1C610.1 634.4 616.7 637.7 623.3 640.1C629.9 642.4 636.5 644.1 643.1 647C649.7 649.9 657.9 655.1 662.9 657.6C667.8 660.1 671.1 661.3 672.8 662" fill="none" stroke="#1d5f8a" stroke-width="1.6"/>
<path d="M484.8 757.5V760.5M481.8 757.5H487.8M481.8 760.5H487.8" stroke="#000" stroke-width="1.4" fill="none"/>
<path d="M504.6 751.3V755.7M501.6 751.3H507.6M501.6 755.7H507.6" stroke="#000" stroke-width="1.4" fill="none"/>
<path d="M524.4 740V747.3M521.4 740H527.4M521.4 747.3H527.4" stroke="#000" stroke-width="1.4" fill="none"/>
<path d="M544.2 714.7V732.3M541.2 714.7H547.2M541.2 732.3H547.2" stroke="#000" stroke-width="1.4" fill="none"/>
<path d="M564 718.4V733.7M561 718.4H567M561 733.7H567" stroke="#000" stroke-width="1.4" fill="none"/>
<path d="M583.7 734.1V747.3M580.7 734.1H586.7M580.7 747.3H586.7" stroke="#000" stroke-width="1.4" fill="none"/>
<path d="M603.5 746.2V751.3M600.5 746.2H606.5M600.5 751.3H606.5" stroke="#000" stroke-width="1.4" fill="none"/>
<path d="M623.3 748.8V753.1M620.3 748.8H626.3M620.3 753.1H626.3" stroke="#000" stroke-width="1.4" fill="none"/>
<path d="M643.1 750.6V755M640.1 750.6H646.1M640.1 755H646.1" stroke="#000" stroke-width="1.4" fill="none"/>
<path d="M662.9 751V754.6M659.9 751H665.9M659.9 754.6H665.9" stroke="#000" stroke-width="1.4" fill="none"/>
<path d="M484.8 754.2V758.6M481.8 754.2H487.8M481.8 758.6H487.8" stroke="#b9621e" stroke-width="1.4" fill="none"/>
<path d="M504.6 706.3V728.3M501.6 706.3H507.6M501.6 728.3H507.6" stroke="#b9621e" stroke-width="1.4" fill="none"/>
<path d="M524.4 647V666M521.4 647H527.4M521.4 666H527.4" stroke="#b9621e" stroke-width="1.4" fill="none"/>
<path d="M544.2 634.2V651.8M541.2 634.2H547.2M541.2 651.8H547.2" stroke="#b9621e" stroke-width="1.4" fill="none"/>
<path d="M564 654.7V678.8M561 654.7H567M561 678.8H567" stroke="#b9621e" stroke-width="1.4" fill="none"/>
<path d="M583.7 695V716.9M580.7 695H586.7M580.7 716.9H586.7" stroke="#b9621e" stroke-width="1.4" fill="none"/>
<path d="M603.5 723.1V741.4M600.5 723.1H606.5M600.5 741.4H606.5" stroke="#b9621e" stroke-width="1.4" fill="none"/>
<path d="M623.3 742.2V749.5M620.3 742.2H626.3M620.3 749.5H626.3" stroke="#b9621e" stroke-width="1.4" fill="none"/>
<path d="M643.1 743.6V749.5M640.1 743.6H646.1M640.1 749.5H646.1" stroke="#b9621e" stroke-width="1.4" fill="none"/>
<path d="M465.1 737.4V756.4M462.1 737.4H468.1M462.1 756.4H468.1" stroke="#1e8a1e" stroke-width="1.4" fill="none"/>
<path d="M484.8 709.2V737.8M481.8 709.2H487.8M481.8 737.8H487.8" stroke="#1e8a1e" stroke-width="1.4" fill="none"/>
<path d="M504.6 675.9V697.9M501.6 675.9H507.6M501.6 697.9H507.6" stroke="#1e8a1e" stroke-width="1.4" fill="none"/>
<path d="M524.4 663.1V688.7M521.4 663.1H527.4M521.4 688.7H527.4" stroke="#1e8a1e" stroke-width="1.4" fill="none"/>
<path d="M544.2 654V675.9M541.2 654H547.2M541.2 675.9H547.2" stroke="#1e8a1e" stroke-width="1.4" fill="none"/>
<path d="M564 666V688M561 666H567M561 688H567" stroke="#1e8a1e" stroke-width="1.4" fill="none"/>
<path d="M583.7 684V711.1M580.7 684H586.7M580.7 711.1H586.7" stroke="#1e8a1e" stroke-width="1.4" fill="none"/>
<path d="M603.5 698.6V721.3M600.5 698.6H606.5M600.5 721.3H606.5" stroke="#1e8a1e" stroke-width="1.4" fill="none"/>
<path d="M623.3 712.2V729.7M620.3 712.2H626.3M620.3 729.7H626.3" stroke="#1e8a1e" stroke-width="1.4" fill="none"/>
<path d="M643.1 734.1V748.8M640.1 734.1H646.1M640.1 748.8H646.1" stroke="#1e8a1e" stroke-width="1.4" fill="none"/>
<path d="M662.9 741.8V752.8M659.9 741.8H665.9M659.9 752.8H665.9" stroke="#1e8a1e" stroke-width="1.4" fill="none"/>
<path d="M484.8 738.1V752.8M481.8 738.1H487.8M481.8 752.8H487.8" stroke="#26d326" stroke-width="1.4" fill="none"/>
<path d="M504.6 718.4V736.7M501.6 718.4H507.6M501.6 736.7H507.6" stroke="#26d326" stroke-width="1.4" fill="none"/>
<path d="M524.4 684.3V706.3M521.4 684.3H527.4M521.4 706.3H527.4" stroke="#26d326" stroke-width="1.4" fill="none"/>
<path d="M544.2 669.7V691.7M541.2 669.7H547.2M541.2 691.7H547.2" stroke="#26d326" stroke-width="1.4" fill="none"/>
<path d="M564 678.5V696.8M561 678.5H567M561 696.8H567" stroke="#26d326" stroke-width="1.4" fill="none"/>
<path d="M583.7 716.5V731.2M580.7 716.5H586.7M580.7 731.2H586.7" stroke="#26d326" stroke-width="1.4" fill="none"/>
<path d="M603.5 738.9V746.2M600.5 738.9H606.5M600.5 746.2H606.5" stroke="#26d326" stroke-width="1.4" fill="none"/>
<path d="M623.3 742.9V748.8M620.3 742.9H626.3M620.3 748.8H626.3" stroke="#26d326" stroke-width="1.4" fill="none"/>
<path d="M643.1 751.7V755.3M640.1 751.7H646.1M640.1 755.3H646.1" stroke="#26d326" stroke-width="1.4" fill="none"/>
<path d="M484.8 750.6V757.9M481.8 750.6H487.8M481.8 757.9H487.8" stroke="#f7923c" stroke-width="1.4" fill="none"/>
<path d="M504.6 690.9V723.9M501.6 690.9H507.6M501.6 723.9H507.6" stroke="#f7923c" stroke-width="1.4" fill="none"/>
<path d="M524.4 654.3V683.6M521.4 654.3H527.4M521.4 683.6H527.4" stroke="#f7923c" stroke-width="1.4" fill="none"/>
<path d="M544.2 653.2V675.2M541.2 653.2H547.2M541.2 675.2H547.2" stroke="#f7923c" stroke-width="1.4" fill="none"/>
<path d="M564 676.3V711.4M561 676.3H567M561 711.4H567" stroke="#f7923c" stroke-width="1.4" fill="none"/>
<path d="M583.7 723.9V742.2M580.7 723.9H586.7M580.7 742.2H586.7" stroke="#f7923c" stroke-width="1.4" fill="none"/>
<path d="M603.5 741.4V748.8M600.5 741.4H606.5M600.5 748.8H606.5" stroke="#f7923c" stroke-width="1.4" fill="none"/>
<path d="M623.3 742.2V749.5M620.3 742.2H626.3M620.3 749.5H626.3" stroke="#f7923c" stroke-width="1.4" fill="none"/>
<path d="M643.1 742.9V748.8M640.1 742.9H646.1M640.1 748.8H646.1" stroke="#f7923c" stroke-width="1.4" fill="none"/>
<path d="M504.6 730.1V760.1M501.6 730.1H507.6M501.6 760.1H507.6" stroke="#1d5f8a" stroke-width="1.4" fill="none"/>
<path d="M524.4 696.8V744.4M521.4 696.8H527.4M521.4 744.4H527.4" stroke="#1d5f8a" stroke-width="1.4" fill="none"/>
<path d="M544.2 653.6V679.2M541.2 653.6H547.2M541.2 679.2H547.2" stroke="#1d5f8a" stroke-width="1.4" fill="none"/>
<path d="M564 632V650.3M561 632H567M561 650.3H567" stroke="#1d5f8a" stroke-width="1.4" fill="none"/>
<path d="M583.7 618.5V645.5M580.7 618.5H586.7M580.7 645.5H586.7" stroke="#1d5f8a" stroke-width="1.4" fill="none"/>
<path d="M603.5 622.1V644.1M600.5 622.1H606.5M600.5 644.1H606.5" stroke="#1d5f8a" stroke-width="1.4" fill="none"/>
<path d="M623.3 623.2V656.9M620.3 623.2H626.3M620.3 656.9H626.3" stroke="#1d5f8a" stroke-width="1.4" fill="none"/>
<path d="M643.1 627.2V666.8M640.1 627.2H646.1M640.1 666.8H646.1" stroke="#1d5f8a" stroke-width="1.4" fill="none"/>
<path d="M662.9 635.7V679.6M659.9 635.7H665.9M659.9 679.6H665.9" stroke="#1d5f8a" stroke-width="1.4" fill="none"/>
<circle cx="425.5" cy="760.1" r="3.5" fill="#000"/>
<circle cx="445.3" cy="760.1" r="3.5" fill="#000"/>
<circle cx="465.1" cy="760.1" r="3.5" fill="#000"/>
<circle cx="484.8" cy="759" r="3.5" fill="#000"/>
<circle cx="504.6" cy="753.5" r="3.5" fill="#000"/>
<circle cx="524.4" cy="743.6" r="3.5" fill="#000"/>
<circle cx="544.2" cy="723.5" r="3.5" fill="#000"/>
<circle cx="564" cy="726.1" r="3.5" fill="#000"/>
<circle cx="583.7" cy="740.7" r="3.5" fill="#000"/>
<circle cx="603.5" cy="748.8" r="3.5" fill="#000"/>
<circle cx="623.3" cy="751" r="3.5" fill="#000"/>
<circle cx="643.1" cy="752.8" r="3.5" fill="#000"/>
<circle cx="662.9" cy="752.8" r="3.5" fill="#000"/>
<circle cx="425.5" cy="760.1" r="2.85" fill="#fff" stroke="#b9621e" stroke-width="1.8"/>
<circle cx="445.3" cy="760.1" r="2.85" fill="#fff" stroke="#b9621e" stroke-width="1.8"/>
<circle cx="465.1" cy="759" r="2.85" fill="#fff" stroke="#b9621e" stroke-width="1.8"/>
<circle cx="484.8" cy="756.4" r="2.85" fill="#fff" stroke="#b9621e" stroke-width="1.8"/>
<circle cx="504.6" cy="717.3" r="2.85" fill="#fff" stroke="#b9621e" stroke-width="1.8"/>
<circle cx="524.4" cy="656.5" r="2.85" fill="#fff" stroke="#b9621e" stroke-width="1.8"/>
<circle cx="544.2" cy="643" r="2.85" fill="#fff" stroke="#b9621e" stroke-width="1.8"/>
<circle cx="564" cy="666.8" r="2.85" fill="#fff" stroke="#b9621e" stroke-width="1.8"/>
<circle cx="583.7" cy="705.9" r="2.85" fill="#fff" stroke="#b9621e" stroke-width="1.8"/>
<circle cx="603.5" cy="732.3" r="2.85" fill="#fff" stroke="#b9621e" stroke-width="1.8"/>
<circle cx="623.3" cy="745.8" r="2.85" fill="#fff" stroke="#b9621e" stroke-width="1.8"/>
<circle cx="643.1" cy="746.6" r="2.85" fill="#fff" stroke="#b9621e" stroke-width="1.8"/>
<circle cx="425.5" cy="760.1" r="2.85" fill="#fff" stroke="#1e8a1e" stroke-width="1.8"/>
<circle cx="445.3" cy="760.1" r="2.85" fill="#fff" stroke="#1e8a1e" stroke-width="1.8"/>
<circle cx="465.1" cy="746.9" r="2.85" fill="#fff" stroke="#1e8a1e" stroke-width="1.8"/>
<circle cx="484.8" cy="723.5" r="2.85" fill="#fff" stroke="#1e8a1e" stroke-width="1.8"/>
<circle cx="504.6" cy="686.9" r="2.85" fill="#fff" stroke="#1e8a1e" stroke-width="1.8"/>
<circle cx="524.4" cy="675.9" r="2.85" fill="#fff" stroke="#1e8a1e" stroke-width="1.8"/>
<circle cx="544.2" cy="664.9" r="2.85" fill="#fff" stroke="#1e8a1e" stroke-width="1.8"/>
<circle cx="564" cy="677" r="2.85" fill="#fff" stroke="#1e8a1e" stroke-width="1.8"/>
<circle cx="583.7" cy="697.5" r="2.85" fill="#fff" stroke="#1e8a1e" stroke-width="1.8"/>
<circle cx="603.5" cy="710" r="2.85" fill="#fff" stroke="#1e8a1e" stroke-width="1.8"/>
<circle cx="623.3" cy="720.9" r="2.85" fill="#fff" stroke="#1e8a1e" stroke-width="1.8"/>
<circle cx="643.1" cy="741.4" r="2.85" fill="#fff" stroke="#1e8a1e" stroke-width="1.8"/>
<circle cx="662.9" cy="747.3" r="2.85" fill="#fff" stroke="#1e8a1e" stroke-width="1.8"/>
<circle cx="425.5" cy="760.1" r="2.85" fill="#fff" stroke="#26d326" stroke-width="1.8"/>
<circle cx="445.3" cy="760.1" r="2.85" fill="#fff" stroke="#26d326" stroke-width="1.8"/>
<circle cx="465.1" cy="759" r="2.85" fill="#fff" stroke="#26d326" stroke-width="1.8"/>
<circle cx="484.8" cy="745.5" r="2.85" fill="#fff" stroke="#26d326" stroke-width="1.8"/>
<circle cx="504.6" cy="727.5" r="2.85" fill="#fff" stroke="#26d326" stroke-width="1.8"/>
<circle cx="524.4" cy="695.3" r="2.85" fill="#fff" stroke="#26d326" stroke-width="1.8"/>
<circle cx="544.2" cy="680.7" r="2.85" fill="#fff" stroke="#26d326" stroke-width="1.8"/>
<circle cx="564" cy="687.6" r="2.85" fill="#fff" stroke="#26d326" stroke-width="1.8"/>
<circle cx="583.7" cy="723.9" r="2.85" fill="#fff" stroke="#26d326" stroke-width="1.8"/>
<circle cx="603.5" cy="742.5" r="2.85" fill="#fff" stroke="#26d326" stroke-width="1.8"/>
<circle cx="623.3" cy="745.8" r="2.85" fill="#fff" stroke="#26d326" stroke-width="1.8"/>
<circle cx="643.1" cy="753.5" r="2.85" fill="#fff" stroke="#26d326" stroke-width="1.8"/>
<circle cx="662.9" cy="756.8" r="2.85" fill="#fff" stroke="#26d326" stroke-width="1.8"/>
<circle cx="425.5" cy="760.1" r="2.85" fill="#fff" stroke="#f7923c" stroke-width="1.8"/>
<circle cx="445.3" cy="760.1" r="2.85" fill="#fff" stroke="#f7923c" stroke-width="1.8"/>
<circle cx="465.1" cy="758.3" r="2.85" fill="#fff" stroke="#f7923c" stroke-width="1.8"/>
<circle cx="484.8" cy="754.2" r="2.85" fill="#fff" stroke="#f7923c" stroke-width="1.8"/>
<circle cx="504.6" cy="707.4" r="2.85" fill="#fff" stroke="#f7923c" stroke-width="1.8"/>
<circle cx="524.4" cy="669" r="2.85" fill="#fff" stroke="#f7923c" stroke-width="1.8"/>
<circle cx="544.2" cy="664.2" r="2.85" fill="#fff" stroke="#f7923c" stroke-width="1.8"/>
<circle cx="564" cy="693.9" r="2.85" fill="#fff" stroke="#f7923c" stroke-width="1.8"/>
<circle cx="583.7" cy="733" r="2.85" fill="#fff" stroke="#f7923c" stroke-width="1.8"/>
<circle cx="603.5" cy="745.1" r="2.85" fill="#fff" stroke="#f7923c" stroke-width="1.8"/>
<circle cx="623.3" cy="745.8" r="2.85" fill="#fff" stroke="#f7923c" stroke-width="1.8"/>
<circle cx="643.1" cy="745.8" r="2.85" fill="#fff" stroke="#f7923c" stroke-width="1.8"/>
<circle cx="425.5" cy="760.1" r="2.85" fill="#fff" stroke="#1d5f8a" stroke-width="1.8"/>
<circle cx="445.3" cy="760.1" r="2.85" fill="#fff" stroke="#1d5f8a" stroke-width="1.8"/>
<circle cx="465.1" cy="760.1" r="2.85" fill="#fff" stroke="#1d5f8a" stroke-width="1.8"/>
<circle cx="484.8" cy="760.1" r="2.85" fill="#fff" stroke="#1d5f8a" stroke-width="1.8"/>
<circle cx="504.6" cy="745.1" r="2.85" fill="#fff" stroke="#1d5f8a" stroke-width="1.8"/>
<circle cx="524.4" cy="720.6" r="2.85" fill="#fff" stroke="#1d5f8a" stroke-width="1.8"/>
<circle cx="544.2" cy="666.4" r="2.85" fill="#fff" stroke="#1d5f8a" stroke-width="1.8"/>
<circle cx="564" cy="641.1" r="2.85" fill="#fff" stroke="#1d5f8a" stroke-width="1.8"/>
<circle cx="583.7" cy="632" r="2.85" fill="#fff" stroke="#1d5f8a" stroke-width="1.8"/>
<circle cx="603.5" cy="633.1" r="2.85" fill="#fff" stroke="#1d5f8a" stroke-width="1.8"/>
<circle cx="623.3" cy="640.1" r="2.85" fill="#fff" stroke="#1d5f8a" stroke-width="1.8"/>
<circle cx="643.1" cy="647" r="2.85" fill="#fff" stroke="#1d5f8a" stroke-width="1.8"/>
<circle cx="662.9" cy="657.6" r="2.85" fill="#fff" stroke="#1d5f8a" stroke-width="1.8"/>
<path d="M480.1 717.4L480.10 714.95M480.1 717.4L482.43 716.64M480.1 717.4L481.54 719.38M480.1 717.4L478.66 719.38M480.1 717.4L477.77 716.64" stroke="#1e8a1e" stroke-width="1.15" stroke-linecap="round" fill="none"/>
<path d="M500.1 680L500.10 677.55M500.1 680L502.43 679.24M500.1 680L501.54 681.98M500.1 680L498.66 681.98M500.1 680L497.77 679.24" stroke="#1e8a1e" stroke-width="1.15" stroke-linecap="round" fill="none"/>
<path d="M499.7 701.8L499.70 699.35M499.7 701.8L502.03 701.04M499.7 701.8L501.14 703.78M499.7 701.8L498.26 703.78M499.7 701.8L497.37 701.04" stroke="#f7923c" stroke-width="1.15" stroke-linecap="round" fill="none"/>
<path d="M499.7 712L499.70 709.55M499.7 712L502.03 711.24M499.7 712L501.14 713.98M499.7 712L498.26 713.98M499.7 712L497.37 711.24" stroke="#b9621e" stroke-width="1.15" stroke-linecap="round" fill="none"/>
<path d="M519.4 650.4L519.40 647.95M519.4 650.4L521.73 649.64M519.4 650.4L520.84 652.38M519.4 650.4L517.96 652.38M519.4 650.4L517.07 649.64" stroke="#b9621e" stroke-width="1.15" stroke-linecap="round" fill="none"/>
<path d="M515.2 664L515.20 661.55M515.2 664L517.53 663.24M515.2 664L516.64 665.98M515.2 664L513.76 665.98M515.2 664L512.87 663.24" stroke="#f7923c" stroke-width="1.15" stroke-linecap="round" fill="none"/>
<path d="M539.1 634.9L539.10 632.45M539.1 634.9L541.43 634.14M539.1 634.9L540.54 636.88M539.1 634.9L537.66 636.88M539.1 634.9L536.77 634.14" stroke="#b9621e" stroke-width="1.15" stroke-linecap="round" fill="none"/>
<path d="M539.1 652.6L539.10 650.15M539.1 652.6L541.43 651.84M539.1 652.6L540.54 654.58M539.1 652.6L537.66 654.58M539.1 652.6L536.77 651.84" stroke="#f7923c" stroke-width="1.15" stroke-linecap="round" fill="none"/>
<path d="M538.7 658.3L538.70 655.85M538.7 658.3L541.03 657.54M538.7 658.3L540.14 660.28M538.7 658.3L537.26 660.28M538.7 658.3L536.37 657.54" stroke="#1d5f8a" stroke-width="1.15" stroke-linecap="round" fill="none"/>
<path d="M570.1 630.3L570.10 627.85M570.1 630.3L572.43 629.54M570.1 630.3L571.54 632.28M570.1 630.3L568.66 632.28M570.1 630.3L567.77 629.54" stroke="#1d5f8a" stroke-width="1.15" stroke-linecap="round" fill="none"/>
<path d="M589.5 624.9L589.50 622.45M589.5 624.9L591.83 624.14M589.5 624.9L590.94 626.88M589.5 624.9L588.06 626.88M589.5 624.9L587.17 624.14" stroke="#1d5f8a" stroke-width="1.15" stroke-linecap="round" fill="none"/>
<path d="M609.2 626.5L609.20 624.05M609.2 626.5L611.53 625.74M609.2 626.5L610.64 628.48M609.2 626.5L607.76 628.48M609.2 626.5L606.87 625.74" stroke="#1d5f8a" stroke-width="1.15" stroke-linecap="round" fill="none"/>
<path d="M628.8 632.6L628.80 630.15M628.8 632.6L631.13 631.84M628.8 632.6L630.24 634.58M628.8 632.6L627.36 634.58M628.8 632.6L626.47 631.84" stroke="#1d5f8a" stroke-width="1.15" stroke-linecap="round" fill="none"/>
<path d="M648.7 639.8L648.70 637.35M648.7 639.8L651.03 639.04M648.7 639.8L650.14 641.78M648.7 639.8L647.26 641.78M648.7 639.8L646.37 639.04" stroke="#1d5f8a" stroke-width="1.15" stroke-linecap="round" fill="none"/>
<path d="M667.6 650.1L667.60 647.65M667.6 650.1L669.93 649.34M667.6 650.1L669.04 652.08M667.6 650.1L666.16 652.08M667.6 650.1L665.27 649.34" stroke="#1d5f8a" stroke-width="1.15" stroke-linecap="round" fill="none"/>
<path d="M537 670.9L537.00 668.45M537 670.9L539.33 670.14M537 670.9L538.44 672.88M537 670.9L535.56 672.88M537 670.9L534.67 670.14" stroke="#1e8a1e" stroke-width="1.15" stroke-linecap="round" fill="none"/>
<path d="M519.4 682.2L519.40 679.75M519.4 682.2L521.73 681.44M519.4 682.2L520.84 684.18M519.4 682.2L517.96 684.18M519.4 682.2L517.07 681.44" stroke="#1e8a1e" stroke-width="1.15" stroke-linecap="round" fill="none"/>
<path d="M557.4 662.5L557.40 660.05M557.4 662.5L559.73 661.74M557.4 662.5L558.84 664.48M557.4 662.5L555.96 664.48M557.4 662.5L555.07 661.74" stroke="#1e8a1e" stroke-width="1.15" stroke-linecap="round" fill="none"/>
<path d="M537 677.7L537.00 675.25M537 677.7L539.33 676.94M537 677.7L538.44 679.68M537 677.7L535.56 679.68M537 677.7L534.67 676.94" stroke="#26d326" stroke-width="1.15" stroke-linecap="round" fill="none"/>
<path d="M517.5 692.9L517.50 690.45M517.5 692.9L519.83 692.14M517.5 692.9L518.94 694.88M517.5 692.9L516.06 694.88M517.5 692.9L515.17 692.14" stroke="#26d326" stroke-width="1.15" stroke-linecap="round" fill="none"/>
<path d="M556.9 687.5L556.90 685.05M556.9 687.5L559.23 686.74M556.9 687.5L558.34 689.48M556.9 687.5L555.46 689.48M556.9 687.5L554.57 686.74" stroke="#26d326" stroke-width="1.15" stroke-linecap="round" fill="none"/>
<path d="M557.4 675.4L557.40 672.95M557.4 675.4L559.73 674.64M557.4 675.4L558.84 677.38M557.4 675.4L555.96 677.38M557.4 675.4L555.07 674.64" stroke="#b9621e" stroke-width="1.15" stroke-linecap="round" fill="none"/>
<path d="M590.3 692.9L590.30 690.45M590.3 692.9L592.63 692.14M590.3 692.9L591.74 694.88M590.3 692.9L588.86 694.88M590.3 692.9L587.97 692.14" stroke="#1e8a1e" stroke-width="1.15" stroke-linecap="round" fill="none"/>
<path d="M590.3 705.8L590.30 703.35M590.3 705.8L592.63 705.04M590.3 705.8L591.74 707.78M590.3 705.8L588.86 707.78M590.3 705.8L587.97 705.04" stroke="#b9621e" stroke-width="1.15" stroke-linecap="round" fill="none"/>
<path d="M609.2 703L609.20 700.55M609.2 703L611.53 702.24M609.2 703L610.64 704.98M609.2 703L607.76 704.98M609.2 703L606.87 702.24" stroke="#1e8a1e" stroke-width="1.15" stroke-linecap="round" fill="none"/>
<line x1="418" y1="634.4" x2="440.2" y2="634.4" stroke="#b9621e" stroke-width="1.5"/>
<circle cx="429.1" cy="634.4" r="2.85" fill="#fff" stroke="#b9621e" stroke-width="1.8"/>
<text x="443.2" y="638.3" font-size="10.3" fill="#222" font-weight="normal" text-anchor="start">A263V (6)</text>
<line x1="418" y1="646.7" x2="440.2" y2="646.7" stroke="#1e8a1e" stroke-width="1.5"/>
<circle cx="429.1" cy="646.7" r="2.85" fill="#fff" stroke="#1e8a1e" stroke-width="1.8"/>
<text x="443.2" y="650.6" font-size="10.3" fill="#222" font-weight="normal" text-anchor="start">V1325I (7)</text>
<line x1="418" y1="659" x2="440.2" y2="659" stroke="#26d326" stroke-width="1.5"/>
<circle cx="429.1" cy="659" r="2.85" fill="#fff" stroke="#26d326" stroke-width="1.8"/>
<text x="443.2" y="662.9" font-size="10.3" fill="#222" font-weight="normal" text-anchor="start">V261L (8)</text>
<line x1="418" y1="671.3" x2="440.2" y2="671.3" stroke="#f7923c" stroke-width="1.5"/>
<circle cx="429.1" cy="671.3" r="2.85" fill="#fff" stroke="#f7923c" stroke-width="1.8"/>
<text x="443.2" y="675.2" font-size="10.3" fill="#222" font-weight="normal" text-anchor="start">R1319Q (6)</text>
<line x1="418" y1="683.6" x2="440.2" y2="683.6" stroke="#1d5f8a" stroke-width="1.5"/>
<circle cx="429.1" cy="683.6" r="2.85" fill="#fff" stroke="#1d5f8a" stroke-width="1.8"/>
<text x="443.2" y="687.5" font-size="10.3" fill="#222" font-weight="normal" text-anchor="start">Q383E (6)</text>
<line x1="53.4" y1="804" x2="53.4" y2="959.6" stroke="#222" stroke-width="1.1"/>
<line x1="53.4" y1="959.6" x2="312.5" y2="959.6" stroke="#222" stroke-width="1.1"/>
<line x1="50" y1="949.6" x2="53.4" y2="949.6" stroke="#222" stroke-width="0.9"/>
<line x1="51.4" y1="940.3" x2="53.4" y2="940.3" stroke="#222" stroke-width="0.9"/>
<line x1="50" y1="931" x2="53.4" y2="931" stroke="#222" stroke-width="0.9"/>
<line x1="51.4" y1="921.6" x2="53.4" y2="921.6" stroke="#222" stroke-width="0.9"/>
<line x1="50" y1="912.3" x2="53.4" y2="912.3" stroke="#222" stroke-width="0.9"/>
<line x1="51.4" y1="903" x2="53.4" y2="903" stroke="#222" stroke-width="0.9"/>
<line x1="50" y1="893.6" x2="53.4" y2="893.6" stroke="#222" stroke-width="0.9"/>
<line x1="51.4" y1="884.3" x2="53.4" y2="884.3" stroke="#222" stroke-width="0.9"/>
<line x1="50" y1="875" x2="53.4" y2="875" stroke="#222" stroke-width="0.9"/>
<line x1="51.4" y1="865.7" x2="53.4" y2="865.7" stroke="#222" stroke-width="0.9"/>
<line x1="50" y1="856.4" x2="53.4" y2="856.4" stroke="#222" stroke-width="0.9"/>
<line x1="51.4" y1="847" x2="53.4" y2="847" stroke="#222" stroke-width="0.9"/>
<line x1="50" y1="837.7" x2="53.4" y2="837.7" stroke="#222" stroke-width="0.9"/>
<line x1="51.4" y1="828.4" x2="53.4" y2="828.4" stroke="#222" stroke-width="0.9"/>
<line x1="50" y1="819" x2="53.4" y2="819" stroke="#222" stroke-width="0.9"/>
<line x1="51.4" y1="809.7" x2="53.4" y2="809.7" stroke="#222" stroke-width="0.9"/>
<text x="47.8" y="952.8" font-size="10.2" fill="#222" font-weight="normal" text-anchor="end">0</text>
<text x="47.8" y="934.2" font-size="10.2" fill="#222" font-weight="normal" text-anchor="end">5</text>
<text x="47.8" y="915.5" font-size="10.2" fill="#222" font-weight="normal" text-anchor="end">10</text>
<text x="47.8" y="896.9" font-size="10.2" fill="#222" font-weight="normal" text-anchor="end">15</text>
<text x="47.8" y="878.2" font-size="10.2" fill="#222" font-weight="normal" text-anchor="end">20</text>
<text x="47.8" y="859.6" font-size="10.2" fill="#222" font-weight="normal" text-anchor="end">25</text>
<text x="47.8" y="840.9" font-size="10.2" fill="#222" font-weight="normal" text-anchor="end">30</text>
<text x="47.8" y="822.2" font-size="10.2" fill="#222" font-weight="normal" text-anchor="end">35</text>
<line x1="53.3" y1="959.6" x2="53.3" y2="961.6" stroke="#222" stroke-width="0.9"/>
<line x1="63.3" y1="959.6" x2="63.3" y2="963" stroke="#222" stroke-width="0.9"/>
<line x1="73.3" y1="959.6" x2="73.3" y2="961.6" stroke="#222" stroke-width="0.9"/>
<line x1="83.2" y1="959.6" x2="83.2" y2="963" stroke="#222" stroke-width="0.9"/>
<line x1="93.2" y1="959.6" x2="93.2" y2="961.6" stroke="#222" stroke-width="0.9"/>
<line x1="103.2" y1="959.6" x2="103.2" y2="963" stroke="#222" stroke-width="0.9"/>
<line x1="113.1" y1="959.6" x2="113.1" y2="961.6" stroke="#222" stroke-width="0.9"/>
<line x1="123.1" y1="959.6" x2="123.1" y2="963" stroke="#222" stroke-width="0.9"/>
<line x1="133.1" y1="959.6" x2="133.1" y2="961.6" stroke="#222" stroke-width="0.9"/>
<line x1="143" y1="959.6" x2="143" y2="963" stroke="#222" stroke-width="0.9"/>
<line x1="153" y1="959.6" x2="153" y2="961.6" stroke="#222" stroke-width="0.9"/>
<line x1="163" y1="959.6" x2="163" y2="963" stroke="#222" stroke-width="0.9"/>
<line x1="172.9" y1="959.6" x2="172.9" y2="961.6" stroke="#222" stroke-width="0.9"/>
<line x1="182.9" y1="959.6" x2="182.9" y2="963" stroke="#222" stroke-width="0.9"/>
<line x1="192.9" y1="959.6" x2="192.9" y2="961.6" stroke="#222" stroke-width="0.9"/>
<line x1="202.8" y1="959.6" x2="202.8" y2="963" stroke="#222" stroke-width="0.9"/>
<line x1="212.8" y1="959.6" x2="212.8" y2="961.6" stroke="#222" stroke-width="0.9"/>
<line x1="222.8" y1="959.6" x2="222.8" y2="963" stroke="#222" stroke-width="0.9"/>
<line x1="232.7" y1="959.6" x2="232.7" y2="961.6" stroke="#222" stroke-width="0.9"/>
<line x1="242.7" y1="959.6" x2="242.7" y2="963" stroke="#222" stroke-width="0.9"/>
<line x1="252.7" y1="959.6" x2="252.7" y2="961.6" stroke="#222" stroke-width="0.9"/>
<line x1="262.6" y1="959.6" x2="262.6" y2="963" stroke="#222" stroke-width="0.9"/>
<line x1="272.6" y1="959.6" x2="272.6" y2="961.6" stroke="#222" stroke-width="0.9"/>
<line x1="282.6" y1="959.6" x2="282.6" y2="963" stroke="#222" stroke-width="0.9"/>
<line x1="292.5" y1="959.6" x2="292.5" y2="961.6" stroke="#222" stroke-width="0.9"/>
<line x1="302.5" y1="959.6" x2="302.5" y2="963" stroke="#222" stroke-width="0.9"/>
<line x1="312.5" y1="959.6" x2="312.5" y2="961.6" stroke="#222" stroke-width="0.9"/>
<text x="63.3" y="973.1" font-size="10" fill="#222" font-weight="normal" text-anchor="middle">-2</text>
<text x="83.2" y="973.1" font-size="10" fill="#222" font-weight="normal" text-anchor="middle">0</text>
<text x="103.2" y="973.1" font-size="10" fill="#222" font-weight="normal" text-anchor="middle">2</text>
<text x="123.1" y="973.1" font-size="10" fill="#222" font-weight="normal" text-anchor="middle">4</text>
<text x="143" y="973.1" font-size="10" fill="#222" font-weight="normal" text-anchor="middle">6</text>
<text x="163" y="973.1" font-size="10" fill="#222" font-weight="normal" text-anchor="middle">8</text>
<text x="182.9" y="973.1" font-size="10" fill="#222" font-weight="normal" text-anchor="middle">10</text>
<text x="202.8" y="973.1" font-size="10" fill="#222" font-weight="normal" text-anchor="middle">12</text>
<text x="222.8" y="973.1" font-size="10" fill="#222" font-weight="normal" text-anchor="middle">14</text>
<text x="242.7" y="973.1" font-size="10" fill="#222" font-weight="normal" text-anchor="middle">16</text>
<text x="262.6" y="973.1" font-size="10" fill="#222" font-weight="normal" text-anchor="middle">18</text>
<text x="282.6" y="973.1" font-size="10" fill="#222" font-weight="normal" text-anchor="middle">20</text>
<text x="302.5" y="973.1" font-size="10" fill="#222" font-weight="normal" text-anchor="middle">22</text>
<text x="-0.9" y="818.6" font-size="26" fill="#000" font-weight="bold" text-anchor="start">d</text>
<text x="63.8" y="825.5" font-size="16.9" fill="#000" font-weight="bold" text-anchor="start">EI-benign</text>
<text x="175.9" y="985.5" font-size="11.6" fill="#000" font-weight="bold" text-anchor="middle">Stimulus current (pA)</text>
<text transform="translate(19.3,887) rotate(-90)" font-size="11.5" font-weight="bold" text-anchor="middle">AP frequency (Hz)</text>
<path d="M63.3 950C66.6 950 76.6 950 83.2 950C89.9 950 96.5 950.6 103.2 950C109.8 949.4 116.5 947.9 123.1 946.7C129.7 945.5 136.4 944.9 143 942.7C149.7 940.5 156.3 938.6 163 933.5C169.6 928.3 176.3 915 182.9 911.8C189.5 908.7 196.2 911.5 202.8 914.4C209.5 917.3 216.1 925.6 222.8 929.4C229.4 933.3 236.1 935.9 242.7 937.5C249.4 939.2 256 938.5 262.6 939.4C269.3 940.2 275.9 942.2 282.6 942.7C289.2 943.1 299.2 942 302.5 941.9" fill="none" stroke="#333" stroke-width="1.6"/>
<path d="M63.3 950C66.6 950 76.6 950 83.2 950C89.9 950 96.5 950.1 103.2 950C109.8 949.9 116.5 950.8 123.1 949.6C129.7 948.5 136.4 956.2 143 943C149.7 929.8 156.3 884.9 163 870.4C169.6 855.8 176.3 853.2 182.9 855.7C189.5 858.2 196.2 876.9 202.8 885.4C209.5 893.9 216.1 899.9 222.8 906.7C229.4 913.5 236.1 921.9 242.7 926.1C249.4 930.4 256 931.1 262.6 932.4C269.3 933.7 275.9 932.3 282.6 933.9C289.2 935.4 299.2 940.6 302.5 941.9" fill="none" stroke="#b683cc" stroke-width="1.6"/>
<path d="M63.3 950C66.6 950 76.6 950 83.2 950C89.9 950 96.5 950 103.2 950C109.8 950 116.5 952.8 123.1 950C129.7 947.2 136.4 941.7 143 933.5C149.7 925.3 156.3 911.5 163 900.8C169.6 890.1 176.3 875.5 182.9 869.3C189.5 863 196.2 861.5 202.8 863.4C209.5 865.3 216.1 871.7 222.8 880.6C229.4 889.6 236.1 908.3 242.7 917C249.4 925.7 256 929.3 262.6 932.8C269.3 936.2 275.9 936 282.6 937.5C289.2 939.1 299.2 941.2 302.5 941.9" fill="none" stroke="#5a9a5a" stroke-width="1.6"/>
<path d="M123.1 945.2V948.2M120.1 945.2H126.1M120.1 948.2H126.1" stroke="#333" stroke-width="1.4" fill="none"/>
<path d="M143 940.5V944.9M140 940.5H146M140 944.9H146" stroke="#333" stroke-width="1.4" fill="none"/>
<path d="M163 929.8V937.2M160 929.8H166M160 937.2H166" stroke="#333" stroke-width="1.4" fill="none"/>
<path d="M182.9 903V920.6M179.9 903H185.9M179.9 920.6H185.9" stroke="#333" stroke-width="1.4" fill="none"/>
<path d="M202.8 906.7V922.1M199.8 906.7H205.8M199.8 922.1H205.8" stroke="#333" stroke-width="1.4" fill="none"/>
<path d="M222.8 922.8V936.1M219.8 922.8H225.8M219.8 936.1H225.8" stroke="#333" stroke-width="1.4" fill="none"/>
<path d="M242.7 935V940.1M239.7 935H245.7M239.7 940.1H245.7" stroke="#333" stroke-width="1.4" fill="none"/>
<path d="M262.6 937.2V941.6M259.6 937.2H265.6M259.6 941.6H265.6" stroke="#333" stroke-width="1.4" fill="none"/>
<path d="M282.6 940.5V944.9M279.6 940.5H285.6M279.6 944.9H285.6" stroke="#333" stroke-width="1.4" fill="none"/>
<path d="M302.5 940.1V943.8M299.5 940.1H305.5M299.5 943.8H305.5" stroke="#333" stroke-width="1.4" fill="none"/>
<path d="M143 940.1V946M140 940.1H146M140 946H146" stroke="#b683cc" stroke-width="1.4" fill="none"/>
<path d="M163 857.5V883.2M160 857.5H166M160 883.2H166" stroke="#b683cc" stroke-width="1.4" fill="none"/>
<path d="M182.9 839.5V871.8M179.9 839.5H185.9M179.9 871.8H185.9" stroke="#b683cc" stroke-width="1.4" fill="none"/>
<path d="M202.8 870V900.8M199.8 870H205.8M199.8 900.8H205.8" stroke="#b683cc" stroke-width="1.4" fill="none"/>
<path d="M222.8 893.8V919.5M219.8 893.8H225.8M219.8 919.5H225.8" stroke="#b683cc" stroke-width="1.4" fill="none"/>
<path d="M242.7 920.6V931.6M239.7 920.6H245.7M239.7 931.6H245.7" stroke="#b683cc" stroke-width="1.4" fill="none"/>
<path d="M262.6 929.4V935.3M259.6 929.4H265.6M259.6 935.3H265.6" stroke="#b683cc" stroke-width="1.4" fill="none"/>
<path d="M282.6 930.9V936.8M279.6 930.9H285.6M279.6 936.8H285.6" stroke="#b683cc" stroke-width="1.4" fill="none"/>
<path d="M302.5 940.1V943.8M299.5 940.1H305.5M299.5 943.8H305.5" stroke="#b683cc" stroke-width="1.4" fill="none"/>
<path d="M143 923.9V943M140 923.9H146M140 943H146" stroke="#5a9a5a" stroke-width="1.4" fill="none"/>
<path d="M163 888.3V913.3M160 888.3H166M160 913.3H166" stroke="#5a9a5a" stroke-width="1.4" fill="none"/>
<path d="M182.9 854.6V883.9M179.9 854.6H185.9M179.9 883.9H185.9" stroke="#5a9a5a" stroke-width="1.4" fill="none"/>
<path d="M202.8 848.3V878.4M199.8 848.3H205.8M199.8 878.4H205.8" stroke="#5a9a5a" stroke-width="1.4" fill="none"/>
<path d="M222.8 867.4V893.8M219.8 867.4H225.8M219.8 893.8H225.8" stroke="#5a9a5a" stroke-width="1.4" fill="none"/>
<path d="M242.7 906.7V927.2M239.7 906.7H245.7M239.7 927.2H245.7" stroke="#5a9a5a" stroke-width="1.4" fill="none"/>
<path d="M262.6 929.1V936.4M259.6 929.1H265.6M259.6 936.4H265.6" stroke="#5a9a5a" stroke-width="1.4" fill="none"/>
<path d="M282.6 935.3V939.7M279.6 935.3H285.6M279.6 939.7H285.6" stroke="#5a9a5a" stroke-width="1.4" fill="none"/>
<path d="M302.5 940.5V943.4M299.5 940.5H305.5M299.5 943.4H305.5" stroke="#5a9a5a" stroke-width="1.4" fill="none"/>
<circle cx="63.3" cy="950" r="3.5" fill="#333"/>
<circle cx="83.2" cy="950" r="3.5" fill="#333"/>
<circle cx="103.2" cy="950" r="3.5" fill="#333"/>
<circle cx="123.1" cy="946.7" r="3.5" fill="#333"/>
<circle cx="143" cy="942.7" r="3.5" fill="#333"/>
<circle cx="163" cy="933.5" r="3.5" fill="#333"/>
<circle cx="182.9" cy="911.8" r="3.5" fill="#333"/>
<circle cx="202.8" cy="914.4" r="3.5" fill="#333"/>
<circle cx="222.8" cy="929.4" r="3.5" fill="#333"/>
<circle cx="242.7" cy="937.5" r="3.5" fill="#333"/>
<circle cx="262.6" cy="939.4" r="3.5" fill="#333"/>
<circle cx="282.6" cy="942.7" r="3.5" fill="#333"/>
<circle cx="302.5" cy="941.9" r="3.5" fill="#333"/>
<circle cx="63.3" cy="950" r="2.85" fill="#fff" stroke="#b683cc" stroke-width="1.8"/>
<circle cx="83.2" cy="950" r="2.85" fill="#fff" stroke="#b683cc" stroke-width="1.8"/>
<circle cx="103.2" cy="950" r="2.85" fill="#fff" stroke="#b683cc" stroke-width="1.8"/>
<circle cx="123.1" cy="949.6" r="2.85" fill="#fff" stroke="#b683cc" stroke-width="1.8"/>
<circle cx="143" cy="943" r="2.85" fill="#fff" stroke="#b683cc" stroke-width="1.8"/>
<circle cx="163" cy="870.4" r="2.85" fill="#fff" stroke="#b683cc" stroke-width="1.8"/>
<circle cx="182.9" cy="855.7" r="2.85" fill="#fff" stroke="#b683cc" stroke-width="1.8"/>
<circle cx="202.8" cy="885.4" r="2.85" fill="#fff" stroke="#b683cc" stroke-width="1.8"/>
<circle cx="222.8" cy="906.7" r="2.85" fill="#fff" stroke="#b683cc" stroke-width="1.8"/>
<circle cx="242.7" cy="926.1" r="2.85" fill="#fff" stroke="#b683cc" stroke-width="1.8"/>
<circle cx="262.6" cy="932.4" r="2.85" fill="#fff" stroke="#b683cc" stroke-width="1.8"/>
<circle cx="282.6" cy="933.9" r="2.85" fill="#fff" stroke="#b683cc" stroke-width="1.8"/>
<circle cx="302.5" cy="941.9" r="2.85" fill="#fff" stroke="#b683cc" stroke-width="1.8"/>
<circle cx="63.3" cy="950" r="2.85" fill="#fff" stroke="#5a9a5a" stroke-width="1.8"/>
<circle cx="83.2" cy="950" r="2.85" fill="#fff" stroke="#5a9a5a" stroke-width="1.8"/>
<circle cx="103.2" cy="950" r="2.85" fill="#fff" stroke="#5a9a5a" stroke-width="1.8"/>
<circle cx="123.1" cy="950" r="2.85" fill="#fff" stroke="#5a9a5a" stroke-width="1.8"/>
<circle cx="143" cy="933.5" r="2.85" fill="#fff" stroke="#5a9a5a" stroke-width="1.8"/>
<circle cx="163" cy="900.8" r="2.85" fill="#fff" stroke="#5a9a5a" stroke-width="1.8"/>
<circle cx="182.9" cy="869.3" r="2.85" fill="#fff" stroke="#5a9a5a" stroke-width="1.8"/>
<circle cx="202.8" cy="863.4" r="2.85" fill="#fff" stroke="#5a9a5a" stroke-width="1.8"/>
<circle cx="222.8" cy="880.6" r="2.85" fill="#fff" stroke="#5a9a5a" stroke-width="1.8"/>
<circle cx="242.7" cy="917" r="2.85" fill="#fff" stroke="#5a9a5a" stroke-width="1.8"/>
<circle cx="262.6" cy="932.8" r="2.85" fill="#fff" stroke="#5a9a5a" stroke-width="1.8"/>
<circle cx="282.6" cy="937.5" r="2.85" fill="#fff" stroke="#5a9a5a" stroke-width="1.8"/>
<circle cx="302.5" cy="941.9" r="2.85" fill="#fff" stroke="#5a9a5a" stroke-width="1.8"/>
<path d="M158.3 864L158.30 861.55M158.3 864L160.63 863.24M158.3 864L159.74 865.98M158.3 864L156.86 865.98M158.3 864L155.97 863.24" stroke="#b683cc" stroke-width="1.15" stroke-linecap="round" fill="none"/>
<path d="M159.3 893.3L159.30 890.85M159.3 893.3L161.63 892.54M159.3 893.3L160.74 895.28M159.3 893.3L157.86 895.28M159.3 893.3L156.97 892.54" stroke="#5a9a5a" stroke-width="1.15" stroke-linecap="round" fill="none"/>
<path d="M187.5 847.1L187.50 844.65M187.5 847.1L189.83 846.34M187.5 847.1L188.94 849.08M187.5 847.1L186.06 849.08M187.5 847.1L185.17 846.34" stroke="#b683cc" stroke-width="1.15" stroke-linecap="round" fill="none"/>
<path d="M188 874.5L188.00 872.05M188 874.5L190.33 873.74M188 874.5L189.44 876.48M188 874.5L186.56 876.48M188 874.5L185.67 873.74" stroke="#5a9a5a" stroke-width="1.15" stroke-linecap="round" fill="none"/>
<path d="M208.3 858.1L208.30 855.65M208.3 858.1L210.63 857.34M208.3 858.1L209.74 860.08M208.3 858.1L206.86 860.08M208.3 858.1L205.97 857.34" stroke="#5a9a5a" stroke-width="1.15" stroke-linecap="round" fill="none"/>
<path d="M209 880L209.00 877.55M209 880L211.33 879.24M209 880L210.44 881.98M209 880L207.56 881.98M209 880L206.67 879.24" stroke="#b683cc" stroke-width="1.15" stroke-linecap="round" fill="none"/>
<path d="M228 873.4L228.00 870.95M228 873.4L230.33 872.64M228 873.4L229.44 875.38M228 873.4L226.56 875.38M228 873.4L225.67 872.64" stroke="#5a9a5a" stroke-width="1.15" stroke-linecap="round" fill="none"/>
<path d="M227.4 899.7L227.40 897.25M227.4 899.7L229.73 898.94M227.4 899.7L228.84 901.68M227.4 899.7L225.96 901.68M227.4 899.7L225.07 898.94" stroke="#b683cc" stroke-width="1.15" stroke-linecap="round" fill="none"/>
<line x1="56.8" y1="840.5" x2="80.7" y2="840.5" stroke="#b683cc" stroke-width="1.5"/>
<circle cx="68.8" cy="840.5" r="2.85" fill="#fff" stroke="#b683cc" stroke-width="1.8"/>
<text x="82.8" y="844.4" font-size="10.3" fill="#222" font-weight="normal" text-anchor="start">E1321K (6)</text>
<line x1="56.8" y1="853.5" x2="80.7" y2="853.5" stroke="#5a9a5a" stroke-width="1.5"/>
<circle cx="68.8" cy="853.5" r="2.85" fill="#fff" stroke="#5a9a5a" stroke-width="1.8"/>
<text x="82.8" y="857.4" font-size="10.3" fill="#222" font-weight="normal" text-anchor="start">Q1531K (6)</text>
<line x1="415.6" y1="804" x2="415.6" y2="959.6" stroke="#222" stroke-width="1.1"/>
<line x1="415.6" y1="959.6" x2="673.4" y2="959.6" stroke="#222" stroke-width="1.1"/>
<line x1="412.2" y1="949.9" x2="415.6" y2="949.9" stroke="#222" stroke-width="0.9"/>
<line x1="413.6" y1="940.6" x2="415.6" y2="940.6" stroke="#222" stroke-width="0.9"/>
<line x1="412.2" y1="931.2" x2="415.6" y2="931.2" stroke="#222" stroke-width="0.9"/>
<line x1="413.6" y1="921.9" x2="415.6" y2="921.9" stroke="#222" stroke-width="0.9"/>
<line x1="412.2" y1="912.6" x2="415.6" y2="912.6" stroke="#222" stroke-width="0.9"/>
<line x1="413.6" y1="903.2" x2="415.6" y2="903.2" stroke="#222" stroke-width="0.9"/>
<line x1="412.2" y1="893.9" x2="415.6" y2="893.9" stroke="#222" stroke-width="0.9"/>
<line x1="413.6" y1="884.6" x2="415.6" y2="884.6" stroke="#222" stroke-width="0.9"/>
<line x1="412.2" y1="875.2" x2="415.6" y2="875.2" stroke="#222" stroke-width="0.9"/>
<line x1="413.6" y1="865.9" x2="415.6" y2="865.9" stroke="#222" stroke-width="0.9"/>
<line x1="412.2" y1="856.5" x2="415.6" y2="856.5" stroke="#222" stroke-width="0.9"/>
<line x1="413.6" y1="847.2" x2="415.6" y2="847.2" stroke="#222" stroke-width="0.9"/>
<line x1="412.2" y1="837.9" x2="415.6" y2="837.9" stroke="#222" stroke-width="0.9"/>
<line x1="413.6" y1="828.5" x2="415.6" y2="828.5" stroke="#222" stroke-width="0.9"/>
<line x1="412.2" y1="819.2" x2="415.6" y2="819.2" stroke="#222" stroke-width="0.9"/>
<line x1="413.6" y1="809.9" x2="415.6" y2="809.9" stroke="#222" stroke-width="0.9"/>
<text x="409" y="953.1" font-size="10.2" fill="#222" font-weight="normal" text-anchor="end">0</text>
<text x="409" y="934.4" font-size="10.2" fill="#222" font-weight="normal" text-anchor="end">5</text>
<text x="409" y="915.8" font-size="10.2" fill="#222" font-weight="normal" text-anchor="end">10</text>
<text x="409" y="897.1" font-size="10.2" fill="#222" font-weight="normal" text-anchor="end">15</text>
<text x="409" y="878.4" font-size="10.2" fill="#222" font-weight="normal" text-anchor="end">20</text>
<text x="409" y="859.8" font-size="10.2" fill="#222" font-weight="normal" text-anchor="end">25</text>
<text x="409" y="841.1" font-size="10.2" fill="#222" font-weight="normal" text-anchor="end">30</text>
<text x="409" y="822.4" font-size="10.2" fill="#222" font-weight="normal" text-anchor="end">35</text>
<line x1="415.4" y1="959.6" x2="415.4" y2="961.6" stroke="#222" stroke-width="0.9"/>
<line x1="425.3" y1="959.6" x2="425.3" y2="963" stroke="#222" stroke-width="0.9"/>
<line x1="435.2" y1="959.6" x2="435.2" y2="961.6" stroke="#222" stroke-width="0.9"/>
<line x1="445.2" y1="959.6" x2="445.2" y2="963" stroke="#222" stroke-width="0.9"/>
<line x1="455.1" y1="959.6" x2="455.1" y2="961.6" stroke="#222" stroke-width="0.9"/>
<line x1="465" y1="959.6" x2="465" y2="963" stroke="#222" stroke-width="0.9"/>
<line x1="474.9" y1="959.6" x2="474.9" y2="961.6" stroke="#222" stroke-width="0.9"/>
<line x1="484.9" y1="959.6" x2="484.9" y2="963" stroke="#222" stroke-width="0.9"/>
<line x1="494.8" y1="959.6" x2="494.8" y2="961.6" stroke="#222" stroke-width="0.9"/>
<line x1="504.7" y1="959.6" x2="504.7" y2="963" stroke="#222" stroke-width="0.9"/>
<line x1="514.6" y1="959.6" x2="514.6" y2="961.6" stroke="#222" stroke-width="0.9"/>
<line x1="524.5" y1="959.6" x2="524.5" y2="963" stroke="#222" stroke-width="0.9"/>
<line x1="534.5" y1="959.6" x2="534.5" y2="961.6" stroke="#222" stroke-width="0.9"/>
<line x1="544.4" y1="959.6" x2="544.4" y2="963" stroke="#222" stroke-width="0.9"/>
<line x1="554.3" y1="959.6" x2="554.3" y2="961.6" stroke="#222" stroke-width="0.9"/>
<line x1="564.2" y1="959.6" x2="564.2" y2="963" stroke="#222" stroke-width="0.9"/>
<line x1="574.2" y1="959.6" x2="574.2" y2="961.6" stroke="#222" stroke-width="0.9"/>
<line x1="584.1" y1="959.6" x2="584.1" y2="963" stroke="#222" stroke-width="0.9"/>
<line x1="594" y1="959.6" x2="594" y2="961.6" stroke="#222" stroke-width="0.9"/>
<line x1="604" y1="959.6" x2="604" y2="963" stroke="#222" stroke-width="0.9"/>
<line x1="613.9" y1="959.6" x2="613.9" y2="961.6" stroke="#222" stroke-width="0.9"/>
<line x1="623.8" y1="959.6" x2="623.8" y2="963" stroke="#222" stroke-width="0.9"/>
<line x1="633.7" y1="959.6" x2="633.7" y2="961.6" stroke="#222" stroke-width="0.9"/>
<line x1="643.7" y1="959.6" x2="643.7" y2="963" stroke="#222" stroke-width="0.9"/>
<line x1="653.6" y1="959.6" x2="653.6" y2="961.6" stroke="#222" stroke-width="0.9"/>
<line x1="663.5" y1="959.6" x2="663.5" y2="963" stroke="#222" stroke-width="0.9"/>
<line x1="673.4" y1="959.6" x2="673.4" y2="961.6" stroke="#222" stroke-width="0.9"/>
<text x="425.3" y="973.1" font-size="10" fill="#222" font-weight="normal" text-anchor="middle">-2</text>
<text x="445.2" y="973.1" font-size="10" fill="#222" font-weight="normal" text-anchor="middle">0</text>
<text x="465" y="973.1" font-size="10" fill="#222" font-weight="normal" text-anchor="middle">2</text>
<text x="484.9" y="973.1" font-size="10" fill="#222" font-weight="normal" text-anchor="middle">4</text>
<text x="504.7" y="973.1" font-size="10" fill="#222" font-weight="normal" text-anchor="middle">6</text>
<text x="524.5" y="973.1" font-size="10" fill="#222" font-weight="normal" text-anchor="middle">8</text>
<text x="544.4" y="973.1" font-size="10" fill="#222" font-weight="normal" text-anchor="middle">10</text>
<text x="564.2" y="973.1" font-size="10" fill="#222" font-weight="normal" text-anchor="middle">12</text>
<text x="584.1" y="973.1" font-size="10" fill="#222" font-weight="normal" text-anchor="middle">14</text>
<text x="604" y="973.1" font-size="10" fill="#222" font-weight="normal" text-anchor="middle">16</text>
<text x="623.8" y="973.1" font-size="10" fill="#222" font-weight="normal" text-anchor="middle">18</text>
<text x="643.7" y="973.1" font-size="10" fill="#222" font-weight="normal" text-anchor="middle">20</text>
<text x="663.5" y="973.1" font-size="10" fill="#222" font-weight="normal" text-anchor="middle">22</text>
<text x="369" y="818.6" font-size="26" fill="#000" font-weight="bold" text-anchor="start">e</text>
<text x="424.3" y="825.5" font-size="16.9" fill="#000" font-weight="bold" text-anchor="start">LO</text>
<text x="537.1" y="985.3" font-size="11.6" fill="#000" font-weight="bold" text-anchor="middle">Stimulus current (pA)</text>
<text transform="translate(381.7,887) rotate(-90)" font-size="11.5" font-weight="bold" text-anchor="middle">AP frequency (Hz)</text>
<path d="M425.3 950.1C428.6 950.1 438.5 950.1 445.2 950.1C451.8 950.1 458.4 950.7 465 950.1C471.6 949.5 478.2 948.1 484.9 946.8C491.5 945.5 498.1 944.3 504.7 942C511.3 939.8 517.9 938.3 524.5 933.2C531.2 928.1 537.8 914.7 544.4 911.6C551 908.4 557.6 911.4 564.2 914.5C570.9 917.6 577.5 926.1 584.1 929.9C590.7 933.8 597.3 936 604 937.6C610.6 939.2 617.2 938.6 623.8 939.5C630.4 940.3 637 942.2 643.7 942.8C650.3 943.3 660.2 942.8 663.5 942.8" fill="none" stroke="#000" stroke-width="1.6"/>
<path d="M425.3 950.1C428.6 950.1 438.5 950.1 445.2 950.1C451.8 950.1 458.4 950.2 465 950.1C471.6 950 478.2 949.7 484.9 949.4C491.5 949 498.1 948.6 504.7 947.9C511.3 947.2 517.9 946.7 524.5 945.3C531.2 943.9 537.8 942.4 544.4 939.5C551 936.5 557.6 929.9 564.2 927.7C570.9 925.6 577.5 925.6 584.1 926.6C590.7 927.6 597.3 931.8 604 933.6C610.6 935.4 617.2 936.8 623.8 937.6C630.4 938.4 637 938.2 643.7 938.4C650.3 938.5 660.2 938.4 663.5 938.4" fill="none" stroke="#1414f0" stroke-width="1.6"/>
<path d="M425.3 950.1C428.6 950.1 438.5 950.1 445.2 950.1C451.8 950.1 458.4 950.1 465 950.1C471.6 950.1 478.2 950.1 484.9 950.1C491.5 950.1 498.1 950.2 504.7 950.1C511.3 950 517.9 949.9 524.5 949.4C531.2 948.8 537.8 947.4 544.4 946.8C551 946.2 557.6 945.9 564.2 945.7C570.9 945.5 577.5 945.8 584.1 945.7C590.7 945.6 597.3 945.3 604 945C610.6 944.7 617.2 944 623.8 943.9C630.4 943.7 637 943.7 643.7 943.9C650.3 944 660.2 944.5 663.5 944.6" fill="none" stroke="#1fa0f5" stroke-width="1.6"/>
<path d="M484.9 945.3V948.3M481.9 945.3H487.9M481.9 948.3H487.9" stroke="#000" stroke-width="1.4" fill="none"/>
<path d="M504.7 939.8V944.2M501.7 939.8H507.7M501.7 944.2H507.7" stroke="#000" stroke-width="1.4" fill="none"/>
<path d="M524.5 929.5V936.9M521.5 929.5H527.5M521.5 936.9H527.5" stroke="#000" stroke-width="1.4" fill="none"/>
<path d="M544.4 902.8V920.4M541.4 902.8H547.4M541.4 920.4H547.4" stroke="#000" stroke-width="1.4" fill="none"/>
<path d="M564.2 906.8V922.2M561.2 906.8H567.2M561.2 922.2H567.2" stroke="#000" stroke-width="1.4" fill="none"/>
<path d="M584.1 923.3V936.5M581.1 923.3H587.1M581.1 936.5H587.1" stroke="#000" stroke-width="1.4" fill="none"/>
<path d="M604 935.1V940.2M601 935.1H607M601 940.2H607" stroke="#000" stroke-width="1.4" fill="none"/>
<path d="M623.8 937.3V941.7M620.8 937.3H626.8M620.8 941.7H626.8" stroke="#000" stroke-width="1.4" fill="none"/>
<path d="M643.7 940.6V945M640.7 940.6H646.7M640.7 945H646.7" stroke="#000" stroke-width="1.4" fill="none"/>
<path d="M663.5 940.9V944.6M660.5 940.9H666.5M660.5 944.6H666.5" stroke="#000" stroke-width="1.4" fill="none"/>
<path d="M544.4 935.8V943.1M541.4 935.8H547.4M541.4 943.1H547.4" stroke="#1414f0" stroke-width="1.4" fill="none"/>
<path d="M564.2 920V935.4M561.2 920H567.2M561.2 935.4H567.2" stroke="#1414f0" stroke-width="1.4" fill="none"/>
<path d="M584.1 921.5V931.8M581.1 921.5H587.1M581.1 931.8H587.1" stroke="#1414f0" stroke-width="1.4" fill="none"/>
<path d="M604 929.9V937.3M601 929.9H607M601 937.3H607" stroke="#1414f0" stroke-width="1.4" fill="none"/>
<path d="M623.8 935.8V939.5M620.8 935.8H626.8M620.8 939.5H626.8" stroke="#1414f0" stroke-width="1.4" fill="none"/>
<circle cx="425.3" cy="950.1" r="3.5" fill="#000"/>
<circle cx="445.2" cy="950.1" r="3.5" fill="#000"/>
<circle cx="465" cy="950.1" r="3.5" fill="#000"/>
<circle cx="484.9" cy="946.8" r="3.5" fill="#000"/>
<circle cx="504.7" cy="942" r="3.5" fill="#000"/>
<circle cx="524.5" cy="933.2" r="3.5" fill="#000"/>
<circle cx="544.4" cy="911.6" r="3.5" fill="#000"/>
<circle cx="564.2" cy="914.5" r="3.5" fill="#000"/>
<circle cx="584.1" cy="929.9" r="3.5" fill="#000"/>
<circle cx="604" cy="937.6" r="3.5" fill="#000"/>
<circle cx="623.8" cy="939.5" r="3.5" fill="#000"/>
<circle cx="643.7" cy="942.8" r="3.5" fill="#000"/>
<circle cx="663.5" cy="942.8" r="3.5" fill="#000"/>
<circle cx="425.3" cy="950.1" r="2.85" fill="#fff" stroke="#1414f0" stroke-width="1.8"/>
<circle cx="445.2" cy="950.1" r="2.85" fill="#fff" stroke="#1414f0" stroke-width="1.8"/>
<circle cx="465" cy="950.1" r="2.85" fill="#fff" stroke="#1414f0" stroke-width="1.8"/>
<circle cx="484.9" cy="949.4" r="2.85" fill="#fff" stroke="#1414f0" stroke-width="1.8"/>
<circle cx="504.7" cy="947.9" r="2.85" fill="#fff" stroke="#1414f0" stroke-width="1.8"/>
<circle cx="524.5" cy="945.3" r="2.85" fill="#fff" stroke="#1414f0" stroke-width="1.8"/>
<circle cx="544.4" cy="939.5" r="2.85" fill="#fff" stroke="#1414f0" stroke-width="1.8"/>
<circle cx="564.2" cy="927.7" r="2.85" fill="#fff" stroke="#1414f0" stroke-width="1.8"/>
<circle cx="584.1" cy="926.6" r="2.85" fill="#fff" stroke="#1414f0" stroke-width="1.8"/>
<circle cx="604" cy="933.6" r="2.85" fill="#fff" stroke="#1414f0" stroke-width="1.8"/>
<circle cx="623.8" cy="937.6" r="2.85" fill="#fff" stroke="#1414f0" stroke-width="1.8"/>
<circle cx="643.7" cy="938.4" r="2.85" fill="#fff" stroke="#1414f0" stroke-width="1.8"/>
<circle cx="663.5" cy="938.4" r="2.85" fill="#fff" stroke="#1414f0" stroke-width="1.8"/>
<circle cx="425.3" cy="950.1" r="3.5" fill="#1fa0f5"/>
<circle cx="445.2" cy="950.1" r="3.5" fill="#1fa0f5"/>
<circle cx="465" cy="950.1" r="3.5" fill="#1fa0f5"/>
<circle cx="484.9" cy="950.1" r="3.5" fill="#1fa0f5"/>
<circle cx="504.7" cy="950.1" r="3.5" fill="#1fa0f5"/>
<circle cx="524.5" cy="949.4" r="3.5" fill="#1fa0f5"/>
<circle cx="544.4" cy="946.8" r="3.5" fill="#1fa0f5"/>
<circle cx="564.2" cy="945.7" r="3.5" fill="#1fa0f5"/>
<circle cx="584.1" cy="945.7" r="3.5" fill="#1fa0f5"/>
<circle cx="604" cy="945" r="3.5" fill="#1fa0f5"/>
<circle cx="623.8" cy="943.9" r="3.5" fill="#1fa0f5"/>
<circle cx="643.7" cy="943.9" r="3.5" fill="#1fa0f5"/>
<circle cx="663.5" cy="944.6" r="3.5" fill="#1fa0f5"/>
<path d="M530.4 939.8L530.40 937.35M530.4 939.8L532.73 939.04M530.4 939.8L531.84 941.78M530.4 939.8L528.96 941.78M530.4 939.8L528.07 939.04" stroke="#1414f0" stroke-width="1.15" stroke-linecap="round" fill="none"/>
<path d="M548.1 930.1L548.10 927.65M548.1 930.1L550.43 929.34M548.1 930.1L549.54 932.08M548.1 930.1L546.66 932.08M548.1 930.1L545.77 929.34" stroke="#1414f0" stroke-width="1.15" stroke-linecap="round" fill="none"/>
<path d="M530.4 951.2L530.40 948.75M530.4 951.2L532.73 950.44M530.4 951.2L531.84 953.18M530.4 951.2L528.96 953.18M530.4 951.2L528.07 950.44" stroke="#1fa0f5" stroke-width="1.15" stroke-linecap="round" fill="none"/>
<path d="M550.8 941.4L550.80 938.95M550.8 941.4L553.13 940.64M550.8 941.4L552.24 943.38M550.8 941.4L549.36 943.38M550.8 941.4L548.47 940.64" stroke="#1fa0f5" stroke-width="1.15" stroke-linecap="round" fill="none"/>
<path d="M568.9 939.1L568.90 936.65M568.9 939.1L571.23 938.34M568.9 939.1L570.34 941.08M568.9 939.1L567.46 941.08M568.9 939.1L566.57 938.34" stroke="#1fa0f5" stroke-width="1.15" stroke-linecap="round" fill="none"/>
<path d="M589.3 939.1L589.30 936.65M589.3 939.1L591.63 938.34M589.3 939.1L590.74 941.08M589.3 939.1L587.86 941.08M589.3 939.1L586.97 938.34" stroke="#1fa0f5" stroke-width="1.15" stroke-linecap="round" fill="none"/>
<line x1="418.6" y1="840.9" x2="442.1" y2="840.9" stroke="#1414f0" stroke-width="1.5"/>
<circle cx="430.4" cy="840.9" r="2.85" fill="#fff" stroke="#1414f0" stroke-width="1.8"/>
<text x="444.2" y="844.8" font-size="10.3" fill="#222" font-weight="normal" text-anchor="start">E1211K (5)</text>
<line x1="418.6" y1="853.5" x2="442.1" y2="853.5" stroke="#1fa0f5" stroke-width="1.5"/>
<circle cx="430.4" cy="853.5" r="2.85" fill="#fff" stroke="#1fa0f5" stroke-width="1.8"/>
<text x="444.2" y="857.4" font-size="10.3" fill="#222" font-weight="normal" text-anchor="start">D195G (6)</text>
<text x="-0.9" y="13.2" font-size="26" fill="#000" font-weight="bold" text-anchor="start">a</text></svg></body></html>
